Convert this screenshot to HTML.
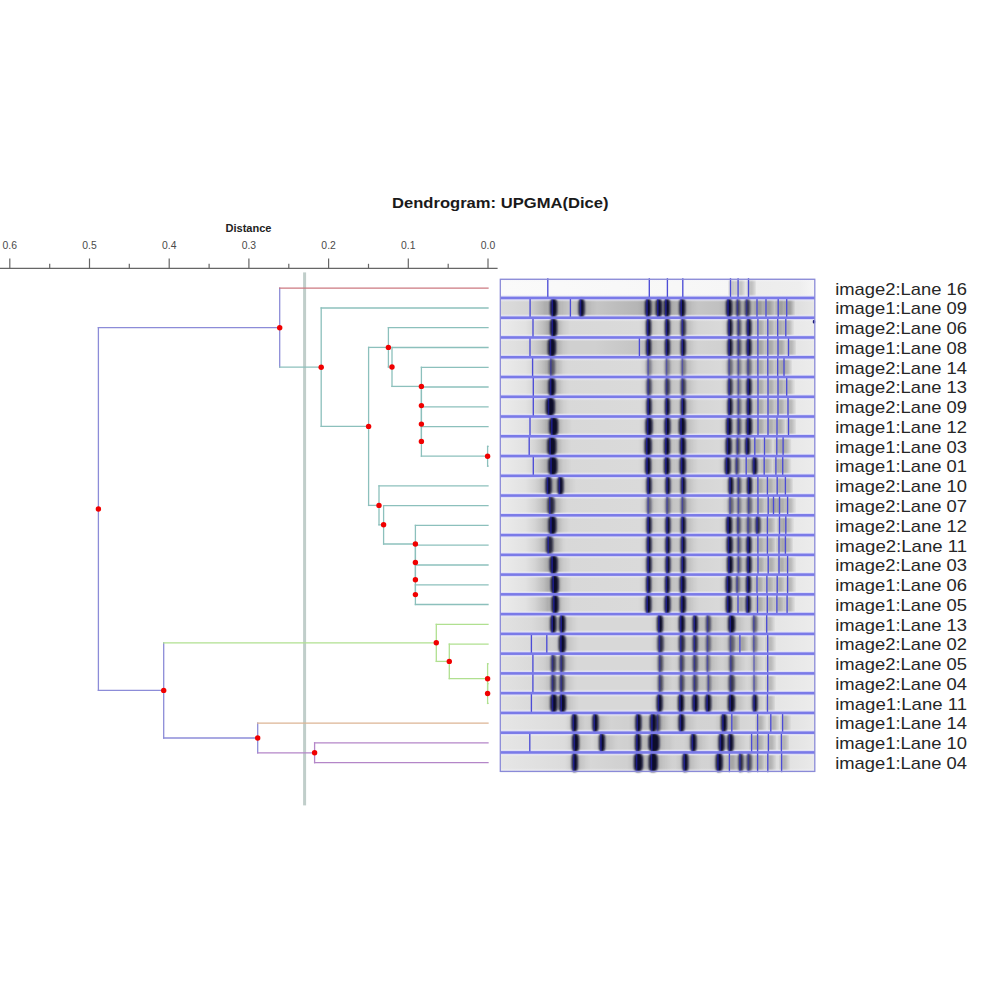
<!DOCTYPE html><html><head><meta charset="utf-8"><style>html,body{margin:0;padding:0;background:#fff;width:1000px;height:1000px;overflow:hidden}svg{position:absolute;left:0;top:0}.t{font-family:"Liberation Sans",sans-serif}</style></head><body>
<svg width="1000" height="1000" viewBox="0 0 1000 1000">
<defs><filter id="bl" x="-50%" y="-20%" width="200%" height="140%"><feGaussianBlur stdDeviation="1.0 1.3"/></filter><filter id="bl2" x="-50%" y="-20%" width="200%" height="140%"><feGaussianBlur stdDeviation="2.5 0.6"/></filter></defs>
<text class="t" x="392" y="207.8" font-size="14.6" font-weight="bold" fill="#1a1a1a" textLength="216.5" lengthAdjust="spacingAndGlyphs">Dendrogram: UPGMA(Dice)</text>
<text class="t" x="225.5" y="231.8" font-size="10" font-weight="bold" fill="#222" textLength="46" lengthAdjust="spacingAndGlyphs">Distance</text>
<g stroke="#666" stroke-width="1.2" fill="none">
<line x1="0" y1="268.3" x2="497.6" y2="268.3"/>
<line x1="9.8" y1="258.5" x2="9.8" y2="268.3"/>
<line x1="89.5" y1="258.5" x2="89.5" y2="268.3"/>
<line x1="169.2" y1="258.5" x2="169.2" y2="268.3"/>
<line x1="248.9" y1="258.5" x2="248.9" y2="268.3"/>
<line x1="328.6" y1="258.5" x2="328.6" y2="268.3"/>
<line x1="408.3" y1="258.5" x2="408.3" y2="268.3"/>
<line x1="488.0" y1="258.5" x2="488.0" y2="268.3"/>
<line x1="49.7" y1="263.8" x2="49.7" y2="268.3"/>
<line x1="129.3" y1="263.8" x2="129.3" y2="268.3"/>
<line x1="209.1" y1="263.8" x2="209.1" y2="268.3"/>
<line x1="288.8" y1="263.8" x2="288.8" y2="268.3"/>
<line x1="368.5" y1="263.8" x2="368.5" y2="268.3"/>
<line x1="448.2" y1="263.8" x2="448.2" y2="268.3"/>
</g>
<text class="t" x="9.8" y="249.2" font-size="10.4" fill="#4a4a4a" text-anchor="middle">0.6</text>
<text class="t" x="89.5" y="249.2" font-size="10.4" fill="#4a4a4a" text-anchor="middle">0.5</text>
<text class="t" x="169.2" y="249.2" font-size="10.4" fill="#4a4a4a" text-anchor="middle">0.4</text>
<text class="t" x="248.9" y="249.2" font-size="10.4" fill="#4a4a4a" text-anchor="middle">0.3</text>
<text class="t" x="328.6" y="249.2" font-size="10.4" fill="#4a4a4a" text-anchor="middle">0.2</text>
<text class="t" x="408.3" y="249.2" font-size="10.4" fill="#4a4a4a" text-anchor="middle">0.1</text>
<text class="t" x="488.0" y="249.2" font-size="10.4" fill="#4a4a4a" text-anchor="middle">0.0</text>
<rect x="303.1" y="272.4" width="3" height="533" fill="#c0ceca"/>
<g stroke-width="1.3" fill="none" stroke-linecap="square">
<line x1="98.4" y1="327.7" x2="98.4" y2="690.4" stroke="#8c8cd8"/>
<line x1="98.4" y1="327.7" x2="279.7" y2="327.7" stroke="#8c8cd8"/>
<line x1="279.7" y1="288.2" x2="279.7" y2="367.2" stroke="#8c8cd8"/>
<line x1="279.7" y1="288.2" x2="488.0" y2="288.2" stroke="#cc7880"/>
<line x1="279.7" y1="367.2" x2="321.2" y2="367.2" stroke="#8cc0bc"/>
<line x1="321.2" y1="308.0" x2="321.2" y2="426.4" stroke="#8cc0bc"/>
<line x1="321.2" y1="308.0" x2="488.0" y2="308.0" stroke="#8cc0bc"/>
<line x1="321.2" y1="426.4" x2="368.6" y2="426.4" stroke="#8cc0bc"/>
<line x1="368.6" y1="347.4" x2="368.6" y2="505.4" stroke="#8cc0bc"/>
<line x1="368.6" y1="347.4" x2="388.4" y2="347.4" stroke="#8cc0bc"/>
<line x1="388.4" y1="327.7" x2="388.4" y2="367.0" stroke="#8cc0bc"/>
<line x1="388.4" y1="327.7" x2="488.0" y2="327.7" stroke="#8cc0bc"/>
<line x1="388.4" y1="367.0" x2="392.0" y2="367.0" stroke="#8cc0bc"/>
<line x1="392.0" y1="347.5" x2="392.0" y2="386.4" stroke="#8cc0bc"/>
<line x1="392.0" y1="347.5" x2="488.0" y2="347.5" stroke="#8cc0bc"/>
<line x1="392.0" y1="386.4" x2="421.4" y2="386.4" stroke="#8cc0bc"/>
<line x1="421.4" y1="367.3" x2="421.4" y2="405.6" stroke="#8cc0bc"/>
<line x1="421.4" y1="367.3" x2="488.0" y2="367.3" stroke="#8cc0bc"/>
<line x1="421.4" y1="405.6" x2="421.4" y2="405.6" stroke="#8cc0bc"/>
<line x1="421.4" y1="387.0" x2="421.4" y2="424.1" stroke="#8cc0bc"/>
<line x1="421.4" y1="387.0" x2="488.0" y2="387.0" stroke="#8cc0bc"/>
<line x1="421.4" y1="424.1" x2="421.4" y2="424.1" stroke="#8cc0bc"/>
<line x1="421.4" y1="406.8" x2="421.4" y2="441.4" stroke="#8cc0bc"/>
<line x1="421.4" y1="406.8" x2="488.0" y2="406.8" stroke="#8cc0bc"/>
<line x1="421.4" y1="441.4" x2="421.4" y2="441.4" stroke="#8cc0bc"/>
<line x1="421.4" y1="426.6" x2="421.4" y2="456.2" stroke="#8cc0bc"/>
<line x1="421.4" y1="426.6" x2="488.0" y2="426.6" stroke="#8cc0bc"/>
<line x1="421.4" y1="456.2" x2="487.6" y2="456.2" stroke="#8cc0bc"/>
<line x1="487.6" y1="446.4" x2="487.6" y2="466.1" stroke="#8cc0bc"/>
<line x1="487.6" y1="446.4" x2="488.0" y2="446.4" stroke="#8cc0bc"/>
<line x1="487.6" y1="466.1" x2="488.0" y2="466.1" stroke="#8cc0bc"/>
<line x1="368.6" y1="505.4" x2="379.0" y2="505.4" stroke="#8cc0bc"/>
<line x1="379.0" y1="485.9" x2="379.0" y2="524.8" stroke="#8cc0bc"/>
<line x1="379.0" y1="485.9" x2="488.0" y2="485.9" stroke="#8cc0bc"/>
<line x1="379.0" y1="524.8" x2="383.6" y2="524.8" stroke="#8cc0bc"/>
<line x1="383.6" y1="505.7" x2="383.6" y2="544.0" stroke="#8cc0bc"/>
<line x1="383.6" y1="505.7" x2="488.0" y2="505.7" stroke="#8cc0bc"/>
<line x1="383.6" y1="544.0" x2="415.4" y2="544.0" stroke="#8cc0bc"/>
<line x1="415.4" y1="525.4" x2="415.4" y2="562.5" stroke="#8cc0bc"/>
<line x1="415.4" y1="525.4" x2="488.0" y2="525.4" stroke="#8cc0bc"/>
<line x1="415.4" y1="562.5" x2="415.4" y2="562.5" stroke="#8cc0bc"/>
<line x1="415.4" y1="545.2" x2="415.4" y2="579.8" stroke="#8cc0bc"/>
<line x1="415.4" y1="545.2" x2="488.0" y2="545.2" stroke="#8cc0bc"/>
<line x1="415.4" y1="579.8" x2="415.4" y2="579.8" stroke="#8cc0bc"/>
<line x1="415.4" y1="565.0" x2="415.4" y2="594.6" stroke="#8cc0bc"/>
<line x1="415.4" y1="565.0" x2="488.0" y2="565.0" stroke="#8cc0bc"/>
<line x1="415.4" y1="594.6" x2="415.4" y2="594.6" stroke="#8cc0bc"/>
<line x1="415.4" y1="584.8" x2="415.4" y2="604.5" stroke="#8cc0bc"/>
<line x1="415.4" y1="584.8" x2="488.0" y2="584.8" stroke="#8cc0bc"/>
<line x1="415.4" y1="604.5" x2="488.0" y2="604.5" stroke="#8cc0bc"/>
<line x1="98.4" y1="690.4" x2="163.7" y2="690.4" stroke="#8c8cd8"/>
<line x1="163.7" y1="642.8" x2="163.7" y2="738.0" stroke="#8c8cd8"/>
<line x1="163.7" y1="642.8" x2="436.3" y2="642.8" stroke="#b0e090"/>
<line x1="436.3" y1="624.3" x2="436.3" y2="661.4" stroke="#b0e090"/>
<line x1="436.3" y1="624.3" x2="488.0" y2="624.3" stroke="#b0e090"/>
<line x1="436.3" y1="661.4" x2="449.3" y2="661.4" stroke="#b0e090"/>
<line x1="449.3" y1="644.1" x2="449.3" y2="678.7" stroke="#b0e090"/>
<line x1="449.3" y1="644.1" x2="488.0" y2="644.1" stroke="#b0e090"/>
<line x1="449.3" y1="678.7" x2="487.6" y2="678.7" stroke="#b0e090"/>
<line x1="487.6" y1="663.8" x2="487.6" y2="693.5" stroke="#b0e090"/>
<line x1="487.6" y1="663.8" x2="488.0" y2="663.8" stroke="#b0e090"/>
<line x1="487.6" y1="693.5" x2="487.6" y2="693.5" stroke="#b0e090"/>
<line x1="487.6" y1="683.6" x2="487.6" y2="703.4" stroke="#b0e090"/>
<line x1="487.6" y1="683.6" x2="488.0" y2="683.6" stroke="#b0e090"/>
<line x1="487.6" y1="703.4" x2="488.0" y2="703.4" stroke="#b0e090"/>
<line x1="163.7" y1="738.0" x2="257.7" y2="738.0" stroke="#8c8cd8"/>
<line x1="257.7" y1="723.1" x2="257.7" y2="752.8" stroke="#8c8cd8"/>
<line x1="257.7" y1="723.1" x2="488.0" y2="723.1" stroke="#dcb494"/>
<line x1="257.7" y1="752.8" x2="314.6" y2="752.8" stroke="#b486c8"/>
<line x1="314.6" y1="742.9" x2="314.6" y2="762.7" stroke="#b486c8"/>
<line x1="314.6" y1="742.9" x2="488.0" y2="742.9" stroke="#b486c8"/>
<line x1="314.6" y1="762.7" x2="488.0" y2="762.7" stroke="#b486c8"/>
</g>
<g fill="#f00000">
<circle cx="487.6" cy="456.2" r="2.7"/>
<circle cx="421.4" cy="441.4" r="2.7"/>
<circle cx="421.4" cy="424.1" r="2.7"/>
<circle cx="421.4" cy="405.6" r="2.7"/>
<circle cx="421.4" cy="386.4" r="2.7"/>
<circle cx="392.0" cy="367.0" r="2.7"/>
<circle cx="388.4" cy="347.4" r="2.7"/>
<circle cx="415.4" cy="594.6" r="2.7"/>
<circle cx="415.4" cy="579.8" r="2.7"/>
<circle cx="415.4" cy="562.5" r="2.7"/>
<circle cx="415.4" cy="544.0" r="2.7"/>
<circle cx="383.6" cy="524.8" r="2.7"/>
<circle cx="379.0" cy="505.4" r="2.7"/>
<circle cx="368.6" cy="426.4" r="2.7"/>
<circle cx="321.2" cy="367.2" r="2.7"/>
<circle cx="279.7" cy="327.7" r="2.7"/>
<circle cx="487.6" cy="693.5" r="2.7"/>
<circle cx="487.6" cy="678.7" r="2.7"/>
<circle cx="449.3" cy="661.4" r="2.7"/>
<circle cx="436.3" cy="642.8" r="2.7"/>
<circle cx="314.6" cy="752.8" r="2.7"/>
<circle cx="257.7" cy="738.0" r="2.7"/>
<circle cx="163.7" cy="690.4" r="2.7"/>
<circle cx="98.4" cy="509.0" r="2.7"/>
</g>
<defs>
<linearGradient id="g_light" x1="0" x2="1" y1="0" y2="0"><stop offset="0" stop-color="#fafafa"/><stop offset="0.75" stop-color="#f6f6f6"/><stop offset="0.8" stop-color="#ececec"/><stop offset="0.95" stop-color="#eeeeee"/><stop offset="1" stop-color="#f6f6f6"/></linearGradient>
<linearGradient id="g_dark" x1="0" x2="1" y1="0" y2="0"><stop offset="0" stop-color="#dcdcdc"/><stop offset="0.089" stop-color="#d4d4d4"/><stop offset="0.142" stop-color="#b0b0b0"/><stop offset="0.19" stop-color="#c8c8c8"/><stop offset="0.285" stop-color="#c8c8c8"/><stop offset="0.445" stop-color="#b4b4b4"/><stop offset="0.604" stop-color="#c8c8c8"/><stop offset="0.7" stop-color="#c0c0c0"/><stop offset="0.922" stop-color="#c4c4c4"/><stop offset="0.938" stop-color="#dedede"/><stop offset="1" stop-color="#e6e6e6"/></linearGradient>
<linearGradient id="g_A" x1="0" x2="1" y1="0" y2="0"><stop offset="0" stop-color="#ececec"/><stop offset="0.08" stop-color="#e2e2e2"/><stop offset="0.11" stop-color="#d4d4d4"/><stop offset="0.15" stop-color="#b4b4b4"/><stop offset="0.2" stop-color="#d8d8d8"/><stop offset="0.45" stop-color="#dadada"/><stop offset="0.6" stop-color="#d4d4d4"/><stop offset="0.72" stop-color="#dadada"/><stop offset="0.9" stop-color="#d6d6d6"/><stop offset="0.93" stop-color="#e8e8e8"/><stop offset="1" stop-color="#ececec"/></linearGradient>
<linearGradient id="g_A3" x1="0" x2="1" y1="0" y2="0"><stop offset="0" stop-color="#e4e4e4"/><stop offset="0.08" stop-color="#dcdcdc"/><stop offset="0.11" stop-color="#cccccc"/><stop offset="0.15" stop-color="#b0b0b0"/><stop offset="0.2" stop-color="#d0d0d0"/><stop offset="0.3" stop-color="#d0d0d0"/><stop offset="0.44" stop-color="#c4c4c4"/><stop offset="0.6" stop-color="#d4d4d4"/><stop offset="0.72" stop-color="#d0d0d0"/><stop offset="0.9" stop-color="#d0d0d0"/><stop offset="0.93" stop-color="#e4e4e4"/><stop offset="1" stop-color="#eaeaea"/></linearGradient>
<linearGradient id="g_B" x1="0" x2="1" y1="0" y2="0"><stop offset="0" stop-color="#e2e2e2"/><stop offset="0.1" stop-color="#dadada"/><stop offset="0.15" stop-color="#cccccc"/><stop offset="0.2" stop-color="#d8d8d8"/><stop offset="0.5" stop-color="#d8d8d8"/><stop offset="0.75" stop-color="#d0d0d0"/><stop offset="0.85" stop-color="#e4e4e4"/><stop offset="1" stop-color="#ececec"/></linearGradient>
<linearGradient id="g_C" x1="0" x2="1" y1="0" y2="0"><stop offset="0" stop-color="#e6e6e6"/><stop offset="0.2" stop-color="#dcdcdc"/><stop offset="0.4" stop-color="#d0d0d0"/><stop offset="0.6" stop-color="#d2d2d2"/><stop offset="0.75" stop-color="#d4d4d4"/><stop offset="0.9" stop-color="#e0e0e0"/><stop offset="1" stop-color="#eaeaea"/></linearGradient>
<linearGradient id="vf" x1="0" x2="0" y1="0" y2="1"><stop offset="0" stop-color="#f4f4fa" stop-opacity="1"/><stop offset="0.2" stop-color="#f4f4fa" stop-opacity="0"/><stop offset="0.8" stop-color="#f4f4fa" stop-opacity="0"/><stop offset="1" stop-color="#f4f4fa" stop-opacity="1"/></linearGradient>
</defs>
<rect x="500.3" y="278.2" width="314.5" height="19.8" fill="url(#g_light)"/>
<rect x="730.5" y="280.2" width="5" height="15.8" fill="#000" opacity="0.28" filter="url(#bl2)"/>
<rect x="738.1" y="280.2" width="5" height="15.8" fill="#000" opacity="0.28" filter="url(#bl2)"/>
<rect x="748.5" y="280.2" width="5" height="15.8" fill="#000" opacity="0.28" filter="url(#bl2)"/>
<rect x="500.3" y="278.2" width="314.5" height="19.8" fill="url(#vf)"/>
<rect x="500.3" y="298.0" width="314.5" height="19.8" fill="url(#g_dark)"/>
<rect x="547.6" y="300.0" width="12.0" height="15.8" fill="#000" opacity="0.09" filter="url(#bl2)"/>
<rect x="553.6" y="300.0" width="13.0" height="15.8" fill="#000" opacity="0.05" filter="url(#bl2)"/>
<rect x="576.1" y="300.0" width="11.0" height="15.8" fill="#000" opacity="0.09" filter="url(#bl2)"/>
<rect x="581.6" y="300.0" width="12.0" height="15.8" fill="#000" opacity="0.05" filter="url(#bl2)"/>
<rect x="642.6" y="300.0" width="11.0" height="15.8" fill="#000" opacity="0.09" filter="url(#bl2)"/>
<rect x="648.1" y="300.0" width="12.0" height="15.8" fill="#000" opacity="0.05" filter="url(#bl2)"/>
<rect x="653.4" y="300.0" width="11.0" height="15.8" fill="#000" opacity="0.09" filter="url(#bl2)"/>
<rect x="658.9" y="300.0" width="12.0" height="15.8" fill="#000" opacity="0.05" filter="url(#bl2)"/>
<rect x="661.5" y="300.0" width="11.0" height="15.8" fill="#000" opacity="0.09" filter="url(#bl2)"/>
<rect x="667.0" y="300.0" width="12.0" height="15.8" fill="#000" opacity="0.05" filter="url(#bl2)"/>
<rect x="676.8" y="300.0" width="11.0" height="15.8" fill="#000" opacity="0.09" filter="url(#bl2)"/>
<rect x="682.3" y="300.0" width="12.0" height="15.8" fill="#000" opacity="0.05" filter="url(#bl2)"/>
<rect x="723.6" y="300.0" width="11.0" height="15.8" fill="#000" opacity="0.09" filter="url(#bl2)"/>
<rect x="729.1" y="300.0" width="12.0" height="15.8" fill="#000" opacity="0.05" filter="url(#bl2)"/>
<rect x="733.6" y="300.0" width="9.0" height="15.8" fill="#000" opacity="0.08" filter="url(#bl2)"/>
<rect x="738.1" y="300.0" width="10.0" height="15.8" fill="#000" opacity="0.05" filter="url(#bl2)"/>
<rect x="742.5" y="300.0" width="10.0" height="15.8" fill="#000" opacity="0.08" filter="url(#bl2)"/>
<rect x="747.5" y="300.0" width="11.0" height="15.8" fill="#000" opacity="0.05" filter="url(#bl2)"/>
<rect x="757.0" y="300.0" width="5" height="15.8" fill="#000" opacity="0.28" filter="url(#bl2)"/>
<rect x="766.0" y="300.0" width="5" height="15.8" fill="#000" opacity="0.28" filter="url(#bl2)"/>
<rect x="778.2" y="300.0" width="5" height="15.8" fill="#000" opacity="0.28" filter="url(#bl2)"/>
<rect x="786.7" y="300.0" width="5" height="15.8" fill="#000" opacity="0.28" filter="url(#bl2)"/>
<rect x="500.3" y="298.0" width="314.5" height="19.8" fill="url(#vf)"/>
<rect x="500.3" y="317.7" width="314.5" height="19.8" fill="url(#g_A)"/>
<rect x="547.6" y="319.7" width="12.0" height="15.8" fill="#000" opacity="0.09" filter="url(#bl2)"/>
<rect x="553.6" y="319.7" width="13.0" height="15.8" fill="#000" opacity="0.05" filter="url(#bl2)"/>
<rect x="643.6" y="319.7" width="10.0" height="15.8" fill="#000" opacity="0.09" filter="url(#bl2)"/>
<rect x="648.6" y="319.7" width="11.0" height="15.8" fill="#000" opacity="0.05" filter="url(#bl2)"/>
<rect x="662.4" y="319.7" width="10.0" height="15.8" fill="#000" opacity="0.09" filter="url(#bl2)"/>
<rect x="667.4" y="319.7" width="11.0" height="15.8" fill="#000" opacity="0.05" filter="url(#bl2)"/>
<rect x="678.2" y="319.7" width="10.0" height="15.8" fill="#000" opacity="0.09" filter="url(#bl2)"/>
<rect x="683.2" y="319.7" width="11.0" height="15.8" fill="#000" opacity="0.05" filter="url(#bl2)"/>
<rect x="725.0" y="319.7" width="10.0" height="15.8" fill="#000" opacity="0.09" filter="url(#bl2)"/>
<rect x="730.0" y="319.7" width="11.0" height="15.8" fill="#000" opacity="0.05" filter="url(#bl2)"/>
<rect x="734.5" y="319.7" width="9.0" height="15.8" fill="#000" opacity="0.08" filter="url(#bl2)"/>
<rect x="739.0" y="319.7" width="10.0" height="15.8" fill="#000" opacity="0.05" filter="url(#bl2)"/>
<rect x="743.9" y="319.7" width="10.0" height="15.8" fill="#000" opacity="0.09" filter="url(#bl2)"/>
<rect x="748.9" y="319.7" width="11.0" height="15.8" fill="#000" opacity="0.05" filter="url(#bl2)"/>
<rect x="757.9" y="319.7" width="5" height="15.8" fill="#000" opacity="0.28" filter="url(#bl2)"/>
<rect x="767.8" y="319.7" width="5" height="15.8" fill="#000" opacity="0.28" filter="url(#bl2)"/>
<rect x="777.7" y="319.7" width="5" height="15.8" fill="#000" opacity="0.28" filter="url(#bl2)"/>
<rect x="785.8" y="319.7" width="5" height="15.8" fill="#000" opacity="0.28" filter="url(#bl2)"/>
<rect x="500.3" y="317.7" width="314.5" height="19.8" fill="url(#vf)"/>
<rect x="500.3" y="337.5" width="314.5" height="19.8" fill="url(#g_A3)"/>
<rect x="545.4" y="339.5" width="13.0" height="15.8" fill="#000" opacity="0.09" filter="url(#bl2)"/>
<rect x="551.9" y="339.5" width="14.0" height="15.8" fill="#000" opacity="0.05" filter="url(#bl2)"/>
<rect x="643.6" y="339.5" width="10.0" height="15.8" fill="#000" opacity="0.09" filter="url(#bl2)"/>
<rect x="648.6" y="339.5" width="11.0" height="15.8" fill="#000" opacity="0.05" filter="url(#bl2)"/>
<rect x="662.4" y="339.5" width="10.0" height="15.8" fill="#000" opacity="0.09" filter="url(#bl2)"/>
<rect x="667.4" y="339.5" width="11.0" height="15.8" fill="#000" opacity="0.05" filter="url(#bl2)"/>
<rect x="678.2" y="339.5" width="10.0" height="15.8" fill="#000" opacity="0.09" filter="url(#bl2)"/>
<rect x="683.2" y="339.5" width="11.0" height="15.8" fill="#000" opacity="0.05" filter="url(#bl2)"/>
<rect x="725.0" y="339.5" width="10.0" height="15.8" fill="#000" opacity="0.09" filter="url(#bl2)"/>
<rect x="730.0" y="339.5" width="11.0" height="15.8" fill="#000" opacity="0.05" filter="url(#bl2)"/>
<rect x="734.5" y="339.5" width="9.0" height="15.8" fill="#000" opacity="0.08" filter="url(#bl2)"/>
<rect x="739.0" y="339.5" width="10.0" height="15.8" fill="#000" opacity="0.05" filter="url(#bl2)"/>
<rect x="743.9" y="339.5" width="10.0" height="15.8" fill="#000" opacity="0.09" filter="url(#bl2)"/>
<rect x="748.9" y="339.5" width="11.0" height="15.8" fill="#000" opacity="0.05" filter="url(#bl2)"/>
<rect x="757.9" y="339.5" width="5" height="15.8" fill="#000" opacity="0.28" filter="url(#bl2)"/>
<rect x="767.8" y="339.5" width="5" height="15.8" fill="#000" opacity="0.28" filter="url(#bl2)"/>
<rect x="778.0" y="339.5" width="5" height="15.8" fill="#000" opacity="0.28" filter="url(#bl2)"/>
<rect x="788.5" y="339.5" width="5" height="15.8" fill="#000" opacity="0.28" filter="url(#bl2)"/>
<rect x="500.3" y="337.5" width="314.5" height="19.8" fill="url(#vf)"/>
<rect x="500.3" y="357.2" width="314.5" height="19.8" fill="url(#g_A)"/>
<rect x="546.4" y="359.2" width="11.0" height="15.8" fill="#000" opacity="0.08" filter="url(#bl2)"/>
<rect x="551.9" y="359.2" width="12.0" height="15.8" fill="#000" opacity="0.05" filter="url(#bl2)"/>
<rect x="644.0" y="359.2" width="10.0" height="15.8" fill="#000" opacity="0.07" filter="url(#bl2)"/>
<rect x="649.0" y="359.2" width="11.0" height="15.8" fill="#000" opacity="0.05" filter="url(#bl2)"/>
<rect x="662.4" y="359.2" width="10.0" height="15.8" fill="#000" opacity="0.07" filter="url(#bl2)"/>
<rect x="667.4" y="359.2" width="11.0" height="15.8" fill="#000" opacity="0.05" filter="url(#bl2)"/>
<rect x="678.2" y="359.2" width="10.0" height="15.8" fill="#000" opacity="0.07" filter="url(#bl2)"/>
<rect x="683.2" y="359.2" width="11.0" height="15.8" fill="#000" opacity="0.05" filter="url(#bl2)"/>
<rect x="725.0" y="359.2" width="10.0" height="15.8" fill="#000" opacity="0.08" filter="url(#bl2)"/>
<rect x="730.0" y="359.2" width="11.0" height="15.8" fill="#000" opacity="0.05" filter="url(#bl2)"/>
<rect x="734.5" y="359.2" width="9.0" height="15.8" fill="#000" opacity="0.07" filter="url(#bl2)"/>
<rect x="739.0" y="359.2" width="10.0" height="15.8" fill="#000" opacity="0.05" filter="url(#bl2)"/>
<rect x="743.9" y="359.2" width="10.0" height="15.8" fill="#000" opacity="0.08" filter="url(#bl2)"/>
<rect x="748.9" y="359.2" width="11.0" height="15.8" fill="#000" opacity="0.05" filter="url(#bl2)"/>
<rect x="757.9" y="359.2" width="5" height="15.8" fill="#000" opacity="0.28" filter="url(#bl2)"/>
<rect x="767.8" y="359.2" width="5" height="15.8" fill="#000" opacity="0.28" filter="url(#bl2)"/>
<rect x="777.7" y="359.2" width="5" height="15.8" fill="#000" opacity="0.28" filter="url(#bl2)"/>
<rect x="784.0" y="359.2" width="5" height="15.8" fill="#000" opacity="0.28" filter="url(#bl2)"/>
<rect x="500.3" y="357.2" width="314.5" height="19.8" fill="url(#vf)"/>
<rect x="500.3" y="377.0" width="314.5" height="19.8" fill="url(#g_A)"/>
<rect x="545.9" y="379.0" width="12.0" height="15.8" fill="#000" opacity="0.09" filter="url(#bl2)"/>
<rect x="551.9" y="379.0" width="13.0" height="15.8" fill="#000" opacity="0.05" filter="url(#bl2)"/>
<rect x="644.0" y="379.0" width="10.0" height="15.8" fill="#000" opacity="0.08" filter="url(#bl2)"/>
<rect x="649.0" y="379.0" width="11.0" height="15.8" fill="#000" opacity="0.05" filter="url(#bl2)"/>
<rect x="662.4" y="379.0" width="10.0" height="15.8" fill="#000" opacity="0.08" filter="url(#bl2)"/>
<rect x="667.4" y="379.0" width="11.0" height="15.8" fill="#000" opacity="0.05" filter="url(#bl2)"/>
<rect x="678.2" y="379.0" width="10.0" height="15.8" fill="#000" opacity="0.08" filter="url(#bl2)"/>
<rect x="683.2" y="379.0" width="11.0" height="15.8" fill="#000" opacity="0.05" filter="url(#bl2)"/>
<rect x="725.0" y="379.0" width="10.0" height="15.8" fill="#000" opacity="0.09" filter="url(#bl2)"/>
<rect x="730.0" y="379.0" width="11.0" height="15.8" fill="#000" opacity="0.05" filter="url(#bl2)"/>
<rect x="734.5" y="379.0" width="9.0" height="15.8" fill="#000" opacity="0.07" filter="url(#bl2)"/>
<rect x="739.0" y="379.0" width="10.0" height="15.8" fill="#000" opacity="0.05" filter="url(#bl2)"/>
<rect x="744.0" y="379.0" width="10.0" height="15.8" fill="#000" opacity="0.09" filter="url(#bl2)"/>
<rect x="749.0" y="379.0" width="11.0" height="15.8" fill="#000" opacity="0.05" filter="url(#bl2)"/>
<rect x="758.0" y="379.0" width="5" height="15.8" fill="#000" opacity="0.28" filter="url(#bl2)"/>
<rect x="768.0" y="379.0" width="5" height="15.8" fill="#000" opacity="0.28" filter="url(#bl2)"/>
<rect x="778.0" y="379.0" width="5" height="15.8" fill="#000" opacity="0.28" filter="url(#bl2)"/>
<rect x="786.7" y="379.0" width="5" height="15.8" fill="#000" opacity="0.28" filter="url(#bl2)"/>
<rect x="500.3" y="377.0" width="314.5" height="19.8" fill="url(#vf)"/>
<rect x="500.3" y="396.8" width="314.5" height="19.8" fill="url(#g_A)"/>
<rect x="543.3" y="398.8" width="14.0" height="15.8" fill="#000" opacity="0.09" filter="url(#bl2)"/>
<rect x="550.3" y="398.8" width="15.0" height="15.8" fill="#000" opacity="0.05" filter="url(#bl2)"/>
<rect x="644.0" y="398.8" width="10.0" height="15.8" fill="#000" opacity="0.09" filter="url(#bl2)"/>
<rect x="649.0" y="398.8" width="11.0" height="15.8" fill="#000" opacity="0.05" filter="url(#bl2)"/>
<rect x="662.4" y="398.8" width="10.0" height="15.8" fill="#000" opacity="0.09" filter="url(#bl2)"/>
<rect x="667.4" y="398.8" width="11.0" height="15.8" fill="#000" opacity="0.05" filter="url(#bl2)"/>
<rect x="678.2" y="398.8" width="10.0" height="15.8" fill="#000" opacity="0.09" filter="url(#bl2)"/>
<rect x="683.2" y="398.8" width="11.0" height="15.8" fill="#000" opacity="0.05" filter="url(#bl2)"/>
<rect x="725.0" y="398.8" width="10.0" height="15.8" fill="#000" opacity="0.09" filter="url(#bl2)"/>
<rect x="730.0" y="398.8" width="11.0" height="15.8" fill="#000" opacity="0.05" filter="url(#bl2)"/>
<rect x="734.5" y="398.8" width="9.0" height="15.8" fill="#000" opacity="0.08" filter="url(#bl2)"/>
<rect x="739.0" y="398.8" width="10.0" height="15.8" fill="#000" opacity="0.05" filter="url(#bl2)"/>
<rect x="744.0" y="398.8" width="10.0" height="15.8" fill="#000" opacity="0.09" filter="url(#bl2)"/>
<rect x="749.0" y="398.8" width="11.0" height="15.8" fill="#000" opacity="0.05" filter="url(#bl2)"/>
<rect x="758.0" y="398.8" width="5" height="15.8" fill="#000" opacity="0.28" filter="url(#bl2)"/>
<rect x="768.0" y="398.8" width="5" height="15.8" fill="#000" opacity="0.28" filter="url(#bl2)"/>
<rect x="778.0" y="398.8" width="5" height="15.8" fill="#000" opacity="0.28" filter="url(#bl2)"/>
<rect x="788.0" y="398.8" width="5" height="15.8" fill="#000" opacity="0.28" filter="url(#bl2)"/>
<rect x="500.3" y="396.8" width="314.5" height="19.8" fill="url(#vf)"/>
<rect x="500.3" y="416.5" width="314.5" height="19.8" fill="url(#g_A)"/>
<rect x="546.6" y="418.5" width="14.0" height="15.8" fill="#000" opacity="0.09" filter="url(#bl2)"/>
<rect x="553.6" y="418.5" width="15.0" height="15.8" fill="#000" opacity="0.05" filter="url(#bl2)"/>
<rect x="643.0" y="418.5" width="12.0" height="15.8" fill="#000" opacity="0.09" filter="url(#bl2)"/>
<rect x="649.0" y="418.5" width="13.0" height="15.8" fill="#000" opacity="0.05" filter="url(#bl2)"/>
<rect x="661.9" y="418.5" width="11.0" height="15.8" fill="#000" opacity="0.09" filter="url(#bl2)"/>
<rect x="667.4" y="418.5" width="12.0" height="15.8" fill="#000" opacity="0.05" filter="url(#bl2)"/>
<rect x="676.3" y="418.5" width="12.0" height="15.8" fill="#000" opacity="0.09" filter="url(#bl2)"/>
<rect x="682.3" y="418.5" width="13.0" height="15.8" fill="#000" opacity="0.05" filter="url(#bl2)"/>
<rect x="723.5" y="418.5" width="11.0" height="15.8" fill="#000" opacity="0.09" filter="url(#bl2)"/>
<rect x="729.0" y="418.5" width="12.0" height="15.8" fill="#000" opacity="0.05" filter="url(#bl2)"/>
<rect x="734.5" y="418.5" width="9.0" height="15.8" fill="#000" opacity="0.08" filter="url(#bl2)"/>
<rect x="739.0" y="418.5" width="10.0" height="15.8" fill="#000" opacity="0.05" filter="url(#bl2)"/>
<rect x="743.5" y="418.5" width="11.0" height="15.8" fill="#000" opacity="0.09" filter="url(#bl2)"/>
<rect x="749.0" y="418.5" width="12.0" height="15.8" fill="#000" opacity="0.05" filter="url(#bl2)"/>
<rect x="758.0" y="418.5" width="5" height="15.8" fill="#000" opacity="0.28" filter="url(#bl2)"/>
<rect x="768.0" y="418.5" width="5" height="15.8" fill="#000" opacity="0.28" filter="url(#bl2)"/>
<rect x="777.0" y="418.5" width="5" height="15.8" fill="#000" opacity="0.28" filter="url(#bl2)"/>
<rect x="788.5" y="418.5" width="5" height="15.8" fill="#000" opacity="0.28" filter="url(#bl2)"/>
<rect x="500.3" y="416.5" width="314.5" height="19.8" fill="url(#vf)"/>
<rect x="500.3" y="436.3" width="314.5" height="19.8" fill="url(#g_A)"/>
<rect x="544.9" y="438.3" width="14.0" height="15.8" fill="#000" opacity="0.09" filter="url(#bl2)"/>
<rect x="551.9" y="438.3" width="15.0" height="15.8" fill="#000" opacity="0.05" filter="url(#bl2)"/>
<rect x="642.1" y="438.3" width="12.0" height="15.8" fill="#000" opacity="0.09" filter="url(#bl2)"/>
<rect x="648.1" y="438.3" width="13.0" height="15.8" fill="#000" opacity="0.05" filter="url(#bl2)"/>
<rect x="661.5" y="438.3" width="11.0" height="15.8" fill="#000" opacity="0.09" filter="url(#bl2)"/>
<rect x="667.0" y="438.3" width="12.0" height="15.8" fill="#000" opacity="0.05" filter="url(#bl2)"/>
<rect x="677.2" y="438.3" width="11.0" height="15.8" fill="#000" opacity="0.09" filter="url(#bl2)"/>
<rect x="682.7" y="438.3" width="12.0" height="15.8" fill="#000" opacity="0.05" filter="url(#bl2)"/>
<rect x="723.1" y="438.3" width="11.0" height="15.8" fill="#000" opacity="0.09" filter="url(#bl2)"/>
<rect x="728.6" y="438.3" width="12.0" height="15.8" fill="#000" opacity="0.05" filter="url(#bl2)"/>
<rect x="733.6" y="438.3" width="9.0" height="15.8" fill="#000" opacity="0.08" filter="url(#bl2)"/>
<rect x="738.1" y="438.3" width="10.0" height="15.8" fill="#000" opacity="0.05" filter="url(#bl2)"/>
<rect x="742.6" y="438.3" width="10.0" height="15.8" fill="#000" opacity="0.09" filter="url(#bl2)"/>
<rect x="747.6" y="438.3" width="11.0" height="15.8" fill="#000" opacity="0.05" filter="url(#bl2)"/>
<rect x="754.8" y="438.3" width="5" height="15.8" fill="#000" opacity="0.28" filter="url(#bl2)"/>
<rect x="764.5" y="438.3" width="5" height="15.8" fill="#000" opacity="0.28" filter="url(#bl2)"/>
<rect x="776.8" y="438.3" width="5" height="15.8" fill="#000" opacity="0.28" filter="url(#bl2)"/>
<rect x="783.1" y="438.3" width="5" height="15.8" fill="#000" opacity="0.28" filter="url(#bl2)"/>
<rect x="500.3" y="436.3" width="314.5" height="19.8" fill="url(#vf)"/>
<rect x="500.3" y="456.0" width="314.5" height="19.8" fill="url(#g_A)"/>
<rect x="545.8" y="458.0" width="14.0" height="15.8" fill="#000" opacity="0.09" filter="url(#bl2)"/>
<rect x="552.8" y="458.0" width="15.0" height="15.8" fill="#000" opacity="0.05" filter="url(#bl2)"/>
<rect x="642.6" y="458.0" width="11.0" height="15.8" fill="#000" opacity="0.09" filter="url(#bl2)"/>
<rect x="648.1" y="458.0" width="12.0" height="15.8" fill="#000" opacity="0.05" filter="url(#bl2)"/>
<rect x="661.5" y="458.0" width="11.0" height="15.8" fill="#000" opacity="0.09" filter="url(#bl2)"/>
<rect x="667.0" y="458.0" width="12.0" height="15.8" fill="#000" opacity="0.05" filter="url(#bl2)"/>
<rect x="677.2" y="458.0" width="11.0" height="15.8" fill="#000" opacity="0.09" filter="url(#bl2)"/>
<rect x="682.7" y="458.0" width="12.0" height="15.8" fill="#000" opacity="0.05" filter="url(#bl2)"/>
<rect x="722.2" y="458.0" width="11.0" height="15.8" fill="#000" opacity="0.09" filter="url(#bl2)"/>
<rect x="727.7" y="458.0" width="12.0" height="15.8" fill="#000" opacity="0.05" filter="url(#bl2)"/>
<rect x="732.7" y="458.0" width="9.0" height="15.8" fill="#000" opacity="0.08" filter="url(#bl2)"/>
<rect x="737.2" y="458.0" width="10.0" height="15.8" fill="#000" opacity="0.05" filter="url(#bl2)"/>
<rect x="749.8" y="458.0" width="10.0" height="15.8" fill="#000" opacity="0.09" filter="url(#bl2)"/>
<rect x="754.8" y="458.0" width="11.0" height="15.8" fill="#000" opacity="0.05" filter="url(#bl2)"/>
<rect x="746.2" y="458.0" width="5" height="15.8" fill="#000" opacity="0.28" filter="url(#bl2)"/>
<rect x="764.2" y="458.0" width="5" height="15.8" fill="#000" opacity="0.28" filter="url(#bl2)"/>
<rect x="775.9" y="458.0" width="5" height="15.8" fill="#000" opacity="0.28" filter="url(#bl2)"/>
<rect x="782.7" y="458.0" width="5" height="15.8" fill="#000" opacity="0.28" filter="url(#bl2)"/>
<rect x="500.3" y="456.0" width="314.5" height="19.8" fill="url(#vf)"/>
<rect x="500.3" y="475.8" width="314.5" height="19.8" fill="url(#g_A)"/>
<rect x="543.1" y="477.8" width="11.0" height="15.8" fill="#000" opacity="0.09" filter="url(#bl2)"/>
<rect x="548.6" y="477.8" width="12.0" height="15.8" fill="#000" opacity="0.05" filter="url(#bl2)"/>
<rect x="555.0" y="477.8" width="11.0" height="15.8" fill="#000" opacity="0.09" filter="url(#bl2)"/>
<rect x="560.5" y="477.8" width="12.0" height="15.8" fill="#000" opacity="0.05" filter="url(#bl2)"/>
<rect x="644.0" y="477.8" width="10.0" height="15.8" fill="#000" opacity="0.09" filter="url(#bl2)"/>
<rect x="649.0" y="477.8" width="11.0" height="15.8" fill="#000" opacity="0.05" filter="url(#bl2)"/>
<rect x="662.9" y="477.8" width="10.0" height="15.8" fill="#000" opacity="0.09" filter="url(#bl2)"/>
<rect x="667.9" y="477.8" width="11.0" height="15.8" fill="#000" opacity="0.05" filter="url(#bl2)"/>
<rect x="678.2" y="477.8" width="10.0" height="15.8" fill="#000" opacity="0.09" filter="url(#bl2)"/>
<rect x="683.2" y="477.8" width="11.0" height="15.8" fill="#000" opacity="0.05" filter="url(#bl2)"/>
<rect x="725.9" y="477.8" width="10.0" height="15.8" fill="#000" opacity="0.09" filter="url(#bl2)"/>
<rect x="730.9" y="477.8" width="11.0" height="15.8" fill="#000" opacity="0.05" filter="url(#bl2)"/>
<rect x="734.5" y="477.8" width="9.0" height="15.8" fill="#000" opacity="0.08" filter="url(#bl2)"/>
<rect x="739.0" y="477.8" width="10.0" height="15.8" fill="#000" opacity="0.05" filter="url(#bl2)"/>
<rect x="744.4" y="477.8" width="10.0" height="15.8" fill="#000" opacity="0.09" filter="url(#bl2)"/>
<rect x="749.4" y="477.8" width="11.0" height="15.8" fill="#000" opacity="0.05" filter="url(#bl2)"/>
<rect x="757.9" y="477.8" width="5" height="15.8" fill="#000" opacity="0.28" filter="url(#bl2)"/>
<rect x="767.4" y="477.8" width="5" height="15.8" fill="#000" opacity="0.28" filter="url(#bl2)"/>
<rect x="777.2" y="477.8" width="5" height="15.8" fill="#000" opacity="0.28" filter="url(#bl2)"/>
<rect x="785.4" y="477.8" width="5" height="15.8" fill="#000" opacity="0.28" filter="url(#bl2)"/>
<rect x="500.3" y="475.8" width="314.5" height="19.8" fill="url(#vf)"/>
<rect x="500.3" y="495.6" width="314.5" height="19.8" fill="url(#g_A)"/>
<rect x="545.1" y="497.6" width="12.0" height="15.8" fill="#000" opacity="0.09" filter="url(#bl2)"/>
<rect x="551.1" y="497.6" width="13.0" height="15.8" fill="#000" opacity="0.05" filter="url(#bl2)"/>
<rect x="644.0" y="497.6" width="10.0" height="15.8" fill="#000" opacity="0.08" filter="url(#bl2)"/>
<rect x="649.0" y="497.6" width="11.0" height="15.8" fill="#000" opacity="0.05" filter="url(#bl2)"/>
<rect x="662.9" y="497.6" width="10.0" height="15.8" fill="#000" opacity="0.08" filter="url(#bl2)"/>
<rect x="667.9" y="497.6" width="11.0" height="15.8" fill="#000" opacity="0.05" filter="url(#bl2)"/>
<rect x="678.2" y="497.6" width="10.0" height="15.8" fill="#000" opacity="0.08" filter="url(#bl2)"/>
<rect x="683.2" y="497.6" width="11.0" height="15.8" fill="#000" opacity="0.05" filter="url(#bl2)"/>
<rect x="725.9" y="497.6" width="10.0" height="15.8" fill="#000" opacity="0.08" filter="url(#bl2)"/>
<rect x="730.9" y="497.6" width="11.0" height="15.8" fill="#000" opacity="0.05" filter="url(#bl2)"/>
<rect x="734.5" y="497.6" width="9.0" height="15.8" fill="#000" opacity="0.07" filter="url(#bl2)"/>
<rect x="739.0" y="497.6" width="10.0" height="15.8" fill="#000" opacity="0.05" filter="url(#bl2)"/>
<rect x="744.4" y="497.6" width="10.0" height="15.8" fill="#000" opacity="0.08" filter="url(#bl2)"/>
<rect x="749.4" y="497.6" width="11.0" height="15.8" fill="#000" opacity="0.05" filter="url(#bl2)"/>
<rect x="758.0" y="497.6" width="5" height="15.8" fill="#000" opacity="0.28" filter="url(#bl2)"/>
<rect x="768.2" y="497.6" width="5" height="15.8" fill="#000" opacity="0.28" filter="url(#bl2)"/>
<rect x="773.5" y="497.6" width="5" height="15.8" fill="#000" opacity="0.28" filter="url(#bl2)"/>
<rect x="779.5" y="497.6" width="5" height="15.8" fill="#000" opacity="0.28" filter="url(#bl2)"/>
<rect x="787.6" y="497.6" width="5" height="15.8" fill="#000" opacity="0.28" filter="url(#bl2)"/>
<rect x="500.3" y="495.6" width="314.5" height="19.8" fill="url(#vf)"/>
<rect x="500.3" y="515.3" width="314.5" height="19.8" fill="url(#g_A)"/>
<rect x="545.9" y="517.3" width="13.0" height="15.8" fill="#000" opacity="0.09" filter="url(#bl2)"/>
<rect x="552.4" y="517.3" width="14.0" height="15.8" fill="#000" opacity="0.05" filter="url(#bl2)"/>
<rect x="644.0" y="517.3" width="10.0" height="15.8" fill="#000" opacity="0.09" filter="url(#bl2)"/>
<rect x="649.0" y="517.3" width="11.0" height="15.8" fill="#000" opacity="0.05" filter="url(#bl2)"/>
<rect x="662.9" y="517.3" width="10.0" height="15.8" fill="#000" opacity="0.09" filter="url(#bl2)"/>
<rect x="667.9" y="517.3" width="11.0" height="15.8" fill="#000" opacity="0.05" filter="url(#bl2)"/>
<rect x="678.2" y="517.3" width="10.0" height="15.8" fill="#000" opacity="0.09" filter="url(#bl2)"/>
<rect x="683.2" y="517.3" width="11.0" height="15.8" fill="#000" opacity="0.05" filter="url(#bl2)"/>
<rect x="723.6" y="517.3" width="11.0" height="15.8" fill="#000" opacity="0.09" filter="url(#bl2)"/>
<rect x="729.1" y="517.3" width="12.0" height="15.8" fill="#000" opacity="0.05" filter="url(#bl2)"/>
<rect x="734.1" y="517.3" width="9.0" height="15.8" fill="#000" opacity="0.08" filter="url(#bl2)"/>
<rect x="738.6" y="517.3" width="10.0" height="15.8" fill="#000" opacity="0.05" filter="url(#bl2)"/>
<rect x="743.9" y="517.3" width="10.0" height="15.8" fill="#000" opacity="0.08" filter="url(#bl2)"/>
<rect x="748.9" y="517.3" width="11.0" height="15.8" fill="#000" opacity="0.05" filter="url(#bl2)"/>
<rect x="752.9" y="517.3" width="10.0" height="15.8" fill="#000" opacity="0.09" filter="url(#bl2)"/>
<rect x="757.9" y="517.3" width="11.0" height="15.8" fill="#000" opacity="0.05" filter="url(#bl2)"/>
<rect x="767.4" y="517.3" width="5" height="15.8" fill="#000" opacity="0.28" filter="url(#bl2)"/>
<rect x="779.5" y="517.3" width="5" height="15.8" fill="#000" opacity="0.28" filter="url(#bl2)"/>
<rect x="785.8" y="517.3" width="5" height="15.8" fill="#000" opacity="0.28" filter="url(#bl2)"/>
<rect x="500.3" y="515.3" width="314.5" height="19.8" fill="url(#vf)"/>
<rect x="500.3" y="535.1" width="314.5" height="19.8" fill="url(#g_A)"/>
<rect x="543.5" y="537.1" width="12.0" height="15.8" fill="#000" opacity="0.09" filter="url(#bl2)"/>
<rect x="549.5" y="537.1" width="13.0" height="15.8" fill="#000" opacity="0.05" filter="url(#bl2)"/>
<rect x="644.0" y="537.1" width="10.0" height="15.8" fill="#000" opacity="0.09" filter="url(#bl2)"/>
<rect x="649.0" y="537.1" width="11.0" height="15.8" fill="#000" opacity="0.05" filter="url(#bl2)"/>
<rect x="662.9" y="537.1" width="10.0" height="15.8" fill="#000" opacity="0.09" filter="url(#bl2)"/>
<rect x="667.9" y="537.1" width="11.0" height="15.8" fill="#000" opacity="0.05" filter="url(#bl2)"/>
<rect x="678.2" y="537.1" width="10.0" height="15.8" fill="#000" opacity="0.09" filter="url(#bl2)"/>
<rect x="683.2" y="537.1" width="11.0" height="15.8" fill="#000" opacity="0.05" filter="url(#bl2)"/>
<rect x="724.1" y="537.1" width="11.0" height="15.8" fill="#000" opacity="0.09" filter="url(#bl2)"/>
<rect x="729.6" y="537.1" width="12.0" height="15.8" fill="#000" opacity="0.05" filter="url(#bl2)"/>
<rect x="734.5" y="537.1" width="9.0" height="15.8" fill="#000" opacity="0.08" filter="url(#bl2)"/>
<rect x="739.0" y="537.1" width="10.0" height="15.8" fill="#000" opacity="0.05" filter="url(#bl2)"/>
<rect x="743.9" y="537.1" width="10.0" height="15.8" fill="#000" opacity="0.09" filter="url(#bl2)"/>
<rect x="748.9" y="537.1" width="11.0" height="15.8" fill="#000" opacity="0.05" filter="url(#bl2)"/>
<rect x="757.9" y="537.1" width="5" height="15.8" fill="#000" opacity="0.28" filter="url(#bl2)"/>
<rect x="767.4" y="537.1" width="5" height="15.8" fill="#000" opacity="0.28" filter="url(#bl2)"/>
<rect x="779.0" y="537.1" width="5" height="15.8" fill="#000" opacity="0.28" filter="url(#bl2)"/>
<rect x="785.4" y="537.1" width="5" height="15.8" fill="#000" opacity="0.28" filter="url(#bl2)"/>
<rect x="500.3" y="535.1" width="314.5" height="19.8" fill="url(#vf)"/>
<rect x="500.3" y="554.8" width="314.5" height="19.8" fill="url(#g_A)"/>
<rect x="547.1" y="556.8" width="13.0" height="15.8" fill="#000" opacity="0.09" filter="url(#bl2)"/>
<rect x="553.6" y="556.8" width="14.0" height="15.8" fill="#000" opacity="0.05" filter="url(#bl2)"/>
<rect x="644.0" y="556.8" width="10.0" height="15.8" fill="#000" opacity="0.09" filter="url(#bl2)"/>
<rect x="649.0" y="556.8" width="11.0" height="15.8" fill="#000" opacity="0.05" filter="url(#bl2)"/>
<rect x="662.9" y="556.8" width="10.0" height="15.8" fill="#000" opacity="0.09" filter="url(#bl2)"/>
<rect x="667.9" y="556.8" width="11.0" height="15.8" fill="#000" opacity="0.05" filter="url(#bl2)"/>
<rect x="678.2" y="556.8" width="10.0" height="15.8" fill="#000" opacity="0.09" filter="url(#bl2)"/>
<rect x="683.2" y="556.8" width="11.0" height="15.8" fill="#000" opacity="0.05" filter="url(#bl2)"/>
<rect x="724.5" y="556.8" width="11.0" height="15.8" fill="#000" opacity="0.09" filter="url(#bl2)"/>
<rect x="730.0" y="556.8" width="12.0" height="15.8" fill="#000" opacity="0.05" filter="url(#bl2)"/>
<rect x="734.5" y="556.8" width="9.0" height="15.8" fill="#000" opacity="0.08" filter="url(#bl2)"/>
<rect x="739.0" y="556.8" width="10.0" height="15.8" fill="#000" opacity="0.05" filter="url(#bl2)"/>
<rect x="744.0" y="556.8" width="10.0" height="15.8" fill="#000" opacity="0.09" filter="url(#bl2)"/>
<rect x="749.0" y="556.8" width="11.0" height="15.8" fill="#000" opacity="0.05" filter="url(#bl2)"/>
<rect x="758.0" y="556.8" width="5" height="15.8" fill="#000" opacity="0.28" filter="url(#bl2)"/>
<rect x="768.2" y="556.8" width="5" height="15.8" fill="#000" opacity="0.28" filter="url(#bl2)"/>
<rect x="779.0" y="556.8" width="5" height="15.8" fill="#000" opacity="0.28" filter="url(#bl2)"/>
<rect x="787.6" y="556.8" width="5" height="15.8" fill="#000" opacity="0.28" filter="url(#bl2)"/>
<rect x="500.3" y="554.8" width="314.5" height="19.8" fill="url(#vf)"/>
<rect x="500.3" y="574.6" width="314.5" height="19.8" fill="url(#g_A)"/>
<rect x="548.2" y="576.6" width="13.0" height="15.8" fill="#000" opacity="0.09" filter="url(#bl2)"/>
<rect x="554.7" y="576.6" width="14.0" height="15.8" fill="#000" opacity="0.05" filter="url(#bl2)"/>
<rect x="643.6" y="576.6" width="10.0" height="15.8" fill="#000" opacity="0.09" filter="url(#bl2)"/>
<rect x="648.6" y="576.6" width="11.0" height="15.8" fill="#000" opacity="0.05" filter="url(#bl2)"/>
<rect x="662.4" y="576.6" width="10.0" height="15.8" fill="#000" opacity="0.09" filter="url(#bl2)"/>
<rect x="667.4" y="576.6" width="11.0" height="15.8" fill="#000" opacity="0.05" filter="url(#bl2)"/>
<rect x="677.2" y="576.6" width="11.0" height="15.8" fill="#000" opacity="0.09" filter="url(#bl2)"/>
<rect x="682.7" y="576.6" width="12.0" height="15.8" fill="#000" opacity="0.05" filter="url(#bl2)"/>
<rect x="723.1" y="576.6" width="11.0" height="15.8" fill="#000" opacity="0.09" filter="url(#bl2)"/>
<rect x="728.6" y="576.6" width="12.0" height="15.8" fill="#000" opacity="0.05" filter="url(#bl2)"/>
<rect x="733.2" y="576.6" width="9.0" height="15.8" fill="#000" opacity="0.08" filter="url(#bl2)"/>
<rect x="737.7" y="576.6" width="10.0" height="15.8" fill="#000" opacity="0.05" filter="url(#bl2)"/>
<rect x="743.5" y="576.6" width="10.0" height="15.8" fill="#000" opacity="0.09" filter="url(#bl2)"/>
<rect x="748.5" y="576.6" width="11.0" height="15.8" fill="#000" opacity="0.05" filter="url(#bl2)"/>
<rect x="757.0" y="576.6" width="5" height="15.8" fill="#000" opacity="0.28" filter="url(#bl2)"/>
<rect x="766.9" y="576.6" width="5" height="15.8" fill="#000" opacity="0.28" filter="url(#bl2)"/>
<rect x="777.2" y="576.6" width="5" height="15.8" fill="#000" opacity="0.28" filter="url(#bl2)"/>
<rect x="787.6" y="576.6" width="5" height="15.8" fill="#000" opacity="0.28" filter="url(#bl2)"/>
<rect x="500.3" y="574.6" width="314.5" height="19.8" fill="url(#vf)"/>
<rect x="500.3" y="594.4" width="314.5" height="19.8" fill="url(#g_A)"/>
<rect x="549.1" y="596.4" width="12.0" height="15.8" fill="#000" opacity="0.09" filter="url(#bl2)"/>
<rect x="555.1" y="596.4" width="13.0" height="15.8" fill="#000" opacity="0.05" filter="url(#bl2)"/>
<rect x="642.8" y="596.4" width="11.0" height="15.8" fill="#000" opacity="0.09" filter="url(#bl2)"/>
<rect x="648.3" y="596.4" width="12.0" height="15.8" fill="#000" opacity="0.05" filter="url(#bl2)"/>
<rect x="661.9" y="596.4" width="11.0" height="15.8" fill="#000" opacity="0.09" filter="url(#bl2)"/>
<rect x="667.4" y="596.4" width="12.0" height="15.8" fill="#000" opacity="0.05" filter="url(#bl2)"/>
<rect x="677.4" y="596.4" width="11.0" height="15.8" fill="#000" opacity="0.09" filter="url(#bl2)"/>
<rect x="682.9" y="596.4" width="12.0" height="15.8" fill="#000" opacity="0.05" filter="url(#bl2)"/>
<rect x="723.3" y="596.4" width="11.0" height="15.8" fill="#000" opacity="0.09" filter="url(#bl2)"/>
<rect x="728.8" y="596.4" width="12.0" height="15.8" fill="#000" opacity="0.05" filter="url(#bl2)"/>
<rect x="743.2" y="596.4" width="10.0" height="15.8" fill="#000" opacity="0.09" filter="url(#bl2)"/>
<rect x="748.2" y="596.4" width="11.0" height="15.8" fill="#000" opacity="0.05" filter="url(#bl2)"/>
<rect x="738.0" y="596.4" width="5" height="15.8" fill="#000" opacity="0.28" filter="url(#bl2)"/>
<rect x="757.5" y="596.4" width="5" height="15.8" fill="#000" opacity="0.28" filter="url(#bl2)"/>
<rect x="767.3" y="596.4" width="5" height="15.8" fill="#000" opacity="0.28" filter="url(#bl2)"/>
<rect x="776.9" y="596.4" width="5" height="15.8" fill="#000" opacity="0.28" filter="url(#bl2)"/>
<rect x="787.1" y="596.4" width="5" height="15.8" fill="#000" opacity="0.28" filter="url(#bl2)"/>
<rect x="500.3" y="594.4" width="314.5" height="19.8" fill="url(#vf)"/>
<rect x="500.3" y="614.1" width="314.5" height="19.8" fill="url(#g_B)"/>
<rect x="547.8" y="616.1" width="11.0" height="15.8" fill="#000" opacity="0.09" filter="url(#bl2)"/>
<rect x="553.3" y="616.1" width="12.0" height="15.8" fill="#000" opacity="0.05" filter="url(#bl2)"/>
<rect x="556.8" y="616.1" width="11.0" height="15.8" fill="#000" opacity="0.09" filter="url(#bl2)"/>
<rect x="562.3" y="616.1" width="12.0" height="15.8" fill="#000" opacity="0.05" filter="url(#bl2)"/>
<rect x="654.5" y="616.1" width="11.0" height="15.8" fill="#000" opacity="0.09" filter="url(#bl2)"/>
<rect x="660.0" y="616.1" width="12.0" height="15.8" fill="#000" opacity="0.05" filter="url(#bl2)"/>
<rect x="676.3" y="616.1" width="11.0" height="15.8" fill="#000" opacity="0.09" filter="url(#bl2)"/>
<rect x="681.8" y="616.1" width="12.0" height="15.8" fill="#000" opacity="0.05" filter="url(#bl2)"/>
<rect x="690.2" y="616.1" width="10.0" height="15.8" fill="#000" opacity="0.09" filter="url(#bl2)"/>
<rect x="695.2" y="616.1" width="11.0" height="15.8" fill="#000" opacity="0.05" filter="url(#bl2)"/>
<rect x="703.3" y="616.1" width="10.0" height="15.8" fill="#000" opacity="0.08" filter="url(#bl2)"/>
<rect x="708.3" y="616.1" width="11.0" height="15.8" fill="#000" opacity="0.05" filter="url(#bl2)"/>
<rect x="725.6" y="616.1" width="12.0" height="15.8" fill="#000" opacity="0.09" filter="url(#bl2)"/>
<rect x="731.6" y="616.1" width="13.0" height="15.8" fill="#000" opacity="0.05" filter="url(#bl2)"/>
<rect x="749.7" y="616.1" width="10.0" height="15.8" fill="#000" opacity="0.08" filter="url(#bl2)"/>
<rect x="754.7" y="616.1" width="11.0" height="15.8" fill="#000" opacity="0.05" filter="url(#bl2)"/>
<rect x="766.7" y="616.1" width="5" height="15.8" fill="#000" opacity="0.28" filter="url(#bl2)"/>
<rect x="500.3" y="614.1" width="314.5" height="19.8" fill="url(#vf)"/>
<rect x="500.3" y="633.9" width="314.5" height="19.8" fill="url(#g_B)"/>
<rect x="556.2" y="635.9" width="12.0" height="15.8" fill="#000" opacity="0.09" filter="url(#bl2)"/>
<rect x="562.2" y="635.9" width="13.0" height="15.8" fill="#000" opacity="0.05" filter="url(#bl2)"/>
<rect x="655.0" y="635.9" width="11.0" height="15.8" fill="#000" opacity="0.09" filter="url(#bl2)"/>
<rect x="660.5" y="635.9" width="12.0" height="15.8" fill="#000" opacity="0.05" filter="url(#bl2)"/>
<rect x="676.3" y="635.9" width="11.0" height="15.8" fill="#000" opacity="0.09" filter="url(#bl2)"/>
<rect x="681.8" y="635.9" width="12.0" height="15.8" fill="#000" opacity="0.05" filter="url(#bl2)"/>
<rect x="690.2" y="635.9" width="10.0" height="15.8" fill="#000" opacity="0.09" filter="url(#bl2)"/>
<rect x="695.2" y="635.9" width="11.0" height="15.8" fill="#000" opacity="0.05" filter="url(#bl2)"/>
<rect x="703.3" y="635.9" width="10.0" height="15.8" fill="#000" opacity="0.08" filter="url(#bl2)"/>
<rect x="708.3" y="635.9" width="11.0" height="15.8" fill="#000" opacity="0.05" filter="url(#bl2)"/>
<rect x="726.1" y="635.9" width="11.0" height="15.8" fill="#000" opacity="0.08" filter="url(#bl2)"/>
<rect x="731.6" y="635.9" width="12.0" height="15.8" fill="#000" opacity="0.05" filter="url(#bl2)"/>
<rect x="749.7" y="635.9" width="10.0" height="15.8" fill="#000" opacity="0.07" filter="url(#bl2)"/>
<rect x="754.7" y="635.9" width="11.0" height="15.8" fill="#000" opacity="0.05" filter="url(#bl2)"/>
<rect x="739.9" y="635.9" width="5" height="15.8" fill="#000" opacity="0.28" filter="url(#bl2)"/>
<rect x="767.7" y="635.9" width="5" height="15.8" fill="#000" opacity="0.28" filter="url(#bl2)"/>
<rect x="500.3" y="633.9" width="314.5" height="19.8" fill="url(#vf)"/>
<rect x="500.3" y="653.6" width="314.5" height="19.8" fill="url(#g_B)"/>
<rect x="548.3" y="655.6" width="10.0" height="15.8" fill="#000" opacity="0.08" filter="url(#bl2)"/>
<rect x="553.3" y="655.6" width="11.0" height="15.8" fill="#000" opacity="0.05" filter="url(#bl2)"/>
<rect x="557.0" y="655.6" width="10.0" height="15.8" fill="#000" opacity="0.08" filter="url(#bl2)"/>
<rect x="562.0" y="655.6" width="11.0" height="15.8" fill="#000" opacity="0.05" filter="url(#bl2)"/>
<rect x="655.5" y="655.6" width="10.0" height="15.8" fill="#000" opacity="0.08" filter="url(#bl2)"/>
<rect x="660.5" y="655.6" width="11.0" height="15.8" fill="#000" opacity="0.05" filter="url(#bl2)"/>
<rect x="676.8" y="655.6" width="10.0" height="15.8" fill="#000" opacity="0.08" filter="url(#bl2)"/>
<rect x="681.8" y="655.6" width="11.0" height="15.8" fill="#000" opacity="0.05" filter="url(#bl2)"/>
<rect x="690.2" y="655.6" width="10.0" height="15.8" fill="#000" opacity="0.08" filter="url(#bl2)"/>
<rect x="695.2" y="655.6" width="11.0" height="15.8" fill="#000" opacity="0.05" filter="url(#bl2)"/>
<rect x="703.6" y="655.6" width="9.0" height="15.8" fill="#000" opacity="0.08" filter="url(#bl2)"/>
<rect x="708.1" y="655.6" width="10.0" height="15.8" fill="#000" opacity="0.05" filter="url(#bl2)"/>
<rect x="726.6" y="655.6" width="10.0" height="15.8" fill="#000" opacity="0.08" filter="url(#bl2)"/>
<rect x="731.6" y="655.6" width="11.0" height="15.8" fill="#000" opacity="0.05" filter="url(#bl2)"/>
<rect x="750.2" y="655.6" width="9.0" height="15.8" fill="#000" opacity="0.07" filter="url(#bl2)"/>
<rect x="754.7" y="655.6" width="10.0" height="15.8" fill="#000" opacity="0.05" filter="url(#bl2)"/>
<rect x="767.7" y="655.6" width="5" height="15.8" fill="#000" opacity="0.28" filter="url(#bl2)"/>
<rect x="500.3" y="653.6" width="314.5" height="19.8" fill="url(#vf)"/>
<rect x="500.3" y="673.4" width="314.5" height="19.8" fill="url(#g_B)"/>
<rect x="548.3" y="675.4" width="10.0" height="15.8" fill="#000" opacity="0.08" filter="url(#bl2)"/>
<rect x="553.3" y="675.4" width="11.0" height="15.8" fill="#000" opacity="0.05" filter="url(#bl2)"/>
<rect x="557.0" y="675.4" width="10.0" height="15.8" fill="#000" opacity="0.08" filter="url(#bl2)"/>
<rect x="562.0" y="675.4" width="11.0" height="15.8" fill="#000" opacity="0.05" filter="url(#bl2)"/>
<rect x="655.5" y="675.4" width="10.0" height="15.8" fill="#000" opacity="0.08" filter="url(#bl2)"/>
<rect x="660.5" y="675.4" width="11.0" height="15.8" fill="#000" opacity="0.05" filter="url(#bl2)"/>
<rect x="676.8" y="675.4" width="10.0" height="15.8" fill="#000" opacity="0.08" filter="url(#bl2)"/>
<rect x="681.8" y="675.4" width="11.0" height="15.8" fill="#000" opacity="0.05" filter="url(#bl2)"/>
<rect x="690.2" y="675.4" width="10.0" height="15.8" fill="#000" opacity="0.08" filter="url(#bl2)"/>
<rect x="695.2" y="675.4" width="11.0" height="15.8" fill="#000" opacity="0.05" filter="url(#bl2)"/>
<rect x="704.5" y="675.4" width="9.0" height="15.8" fill="#000" opacity="0.08" filter="url(#bl2)"/>
<rect x="709.0" y="675.4" width="10.0" height="15.8" fill="#000" opacity="0.05" filter="url(#bl2)"/>
<rect x="726.1" y="675.4" width="11.0" height="15.8" fill="#000" opacity="0.08" filter="url(#bl2)"/>
<rect x="731.6" y="675.4" width="12.0" height="15.8" fill="#000" opacity="0.05" filter="url(#bl2)"/>
<rect x="750.2" y="675.4" width="9.0" height="15.8" fill="#000" opacity="0.07" filter="url(#bl2)"/>
<rect x="754.7" y="675.4" width="10.0" height="15.8" fill="#000" opacity="0.05" filter="url(#bl2)"/>
<rect x="767.7" y="675.4" width="5" height="15.8" fill="#000" opacity="0.28" filter="url(#bl2)"/>
<rect x="500.3" y="673.4" width="314.5" height="19.8" fill="url(#vf)"/>
<rect x="500.3" y="693.2" width="314.5" height="19.8" fill="url(#g_B)"/>
<rect x="547.8" y="695.2" width="12.0" height="15.8" fill="#000" opacity="0.09" filter="url(#bl2)"/>
<rect x="553.8" y="695.2" width="13.0" height="15.8" fill="#000" opacity="0.05" filter="url(#bl2)"/>
<rect x="556.5" y="695.2" width="12.0" height="15.8" fill="#000" opacity="0.09" filter="url(#bl2)"/>
<rect x="562.5" y="695.2" width="13.0" height="15.8" fill="#000" opacity="0.05" filter="url(#bl2)"/>
<rect x="654.1" y="695.2" width="11.0" height="15.8" fill="#000" opacity="0.09" filter="url(#bl2)"/>
<rect x="659.6" y="695.2" width="12.0" height="15.8" fill="#000" opacity="0.05" filter="url(#bl2)"/>
<rect x="675.5" y="695.2" width="11.0" height="15.8" fill="#000" opacity="0.09" filter="url(#bl2)"/>
<rect x="681.0" y="695.2" width="12.0" height="15.8" fill="#000" opacity="0.05" filter="url(#bl2)"/>
<rect x="689.7" y="695.2" width="11.0" height="15.8" fill="#000" opacity="0.09" filter="url(#bl2)"/>
<rect x="695.2" y="695.2" width="12.0" height="15.8" fill="#000" opacity="0.05" filter="url(#bl2)"/>
<rect x="702.7" y="695.2" width="11.0" height="15.8" fill="#000" opacity="0.09" filter="url(#bl2)"/>
<rect x="708.2" y="695.2" width="12.0" height="15.8" fill="#000" opacity="0.05" filter="url(#bl2)"/>
<rect x="725.4" y="695.2" width="12.0" height="15.8" fill="#000" opacity="0.09" filter="url(#bl2)"/>
<rect x="731.4" y="695.2" width="13.0" height="15.8" fill="#000" opacity="0.05" filter="url(#bl2)"/>
<rect x="750.0" y="695.2" width="10.0" height="15.8" fill="#000" opacity="0.09" filter="url(#bl2)"/>
<rect x="755.0" y="695.2" width="11.0" height="15.8" fill="#000" opacity="0.05" filter="url(#bl2)"/>
<rect x="767.5" y="695.2" width="5" height="15.8" fill="#000" opacity="0.28" filter="url(#bl2)"/>
<rect x="500.3" y="693.2" width="314.5" height="19.8" fill="url(#vf)"/>
<rect x="500.3" y="712.9" width="314.5" height="19.8" fill="url(#g_C)"/>
<rect x="569.0" y="714.9" width="11.0" height="15.8" fill="#000" opacity="0.09" filter="url(#bl2)"/>
<rect x="574.5" y="714.9" width="12.0" height="15.8" fill="#000" opacity="0.05" filter="url(#bl2)"/>
<rect x="589.9" y="714.9" width="11.0" height="15.8" fill="#000" opacity="0.09" filter="url(#bl2)"/>
<rect x="595.4" y="714.9" width="12.0" height="15.8" fill="#000" opacity="0.05" filter="url(#bl2)"/>
<rect x="632.9" y="714.9" width="11.0" height="15.8" fill="#000" opacity="0.09" filter="url(#bl2)"/>
<rect x="638.4" y="714.9" width="12.0" height="15.8" fill="#000" opacity="0.05" filter="url(#bl2)"/>
<rect x="647.2" y="714.9" width="12.0" height="15.8" fill="#000" opacity="0.09" filter="url(#bl2)"/>
<rect x="653.2" y="714.9" width="13.0" height="15.8" fill="#000" opacity="0.05" filter="url(#bl2)"/>
<rect x="653.7" y="714.9" width="9.0" height="15.8" fill="#000" opacity="0.08" filter="url(#bl2)"/>
<rect x="658.2" y="714.9" width="10.0" height="15.8" fill="#000" opacity="0.05" filter="url(#bl2)"/>
<rect x="676.0" y="714.9" width="11.0" height="15.8" fill="#000" opacity="0.09" filter="url(#bl2)"/>
<rect x="681.5" y="714.9" width="12.0" height="15.8" fill="#000" opacity="0.05" filter="url(#bl2)"/>
<rect x="718.5" y="714.9" width="11.0" height="15.8" fill="#000" opacity="0.09" filter="url(#bl2)"/>
<rect x="724.0" y="714.9" width="12.0" height="15.8" fill="#000" opacity="0.05" filter="url(#bl2)"/>
<rect x="731.8" y="714.9" width="5" height="15.8" fill="#000" opacity="0.28" filter="url(#bl2)"/>
<rect x="757.6" y="714.9" width="5" height="15.8" fill="#000" opacity="0.28" filter="url(#bl2)"/>
<rect x="770.8" y="714.9" width="5" height="15.8" fill="#000" opacity="0.28" filter="url(#bl2)"/>
<rect x="782.6" y="714.9" width="5" height="15.8" fill="#000" opacity="0.28" filter="url(#bl2)"/>
<rect x="500.3" y="712.9" width="314.5" height="19.8" fill="url(#vf)"/>
<rect x="500.3" y="732.7" width="314.5" height="19.8" fill="url(#g_C)"/>
<rect x="569.6" y="734.7" width="12.0" height="15.8" fill="#000" opacity="0.09" filter="url(#bl2)"/>
<rect x="575.6" y="734.7" width="13.0" height="15.8" fill="#000" opacity="0.05" filter="url(#bl2)"/>
<rect x="596.5" y="734.7" width="11.0" height="15.8" fill="#000" opacity="0.09" filter="url(#bl2)"/>
<rect x="602.0" y="734.7" width="12.0" height="15.8" fill="#000" opacity="0.05" filter="url(#bl2)"/>
<rect x="632.5" y="734.7" width="11.0" height="15.8" fill="#000" opacity="0.09" filter="url(#bl2)"/>
<rect x="638.0" y="734.7" width="12.0" height="15.8" fill="#000" opacity="0.05" filter="url(#bl2)"/>
<rect x="646.0" y="734.7" width="16.0" height="15.8" fill="#000" opacity="0.09" filter="url(#bl2)"/>
<rect x="654.0" y="734.7" width="17.0" height="15.8" fill="#000" opacity="0.05" filter="url(#bl2)"/>
<rect x="688.0" y="734.7" width="11.0" height="15.8" fill="#000" opacity="0.09" filter="url(#bl2)"/>
<rect x="693.5" y="734.7" width="12.0" height="15.8" fill="#000" opacity="0.05" filter="url(#bl2)"/>
<rect x="716.0" y="734.7" width="11.0" height="15.8" fill="#000" opacity="0.09" filter="url(#bl2)"/>
<rect x="721.5" y="734.7" width="12.0" height="15.8" fill="#000" opacity="0.05" filter="url(#bl2)"/>
<rect x="725.1" y="734.7" width="11.0" height="15.8" fill="#000" opacity="0.09" filter="url(#bl2)"/>
<rect x="730.6" y="734.7" width="12.0" height="15.8" fill="#000" opacity="0.05" filter="url(#bl2)"/>
<rect x="751.6" y="734.7" width="5" height="15.8" fill="#000" opacity="0.28" filter="url(#bl2)"/>
<rect x="757.6" y="734.7" width="5" height="15.8" fill="#000" opacity="0.28" filter="url(#bl2)"/>
<rect x="768.4" y="734.7" width="5" height="15.8" fill="#000" opacity="0.28" filter="url(#bl2)"/>
<rect x="781.4" y="734.7" width="5" height="15.8" fill="#000" opacity="0.28" filter="url(#bl2)"/>
<rect x="500.3" y="732.7" width="314.5" height="19.8" fill="url(#vf)"/>
<rect x="500.3" y="752.4" width="314.5" height="19.8" fill="url(#g_C)"/>
<rect x="569.3" y="754.4" width="11.0" height="15.8" fill="#000" opacity="0.09" filter="url(#bl2)"/>
<rect x="574.8" y="754.4" width="12.0" height="15.8" fill="#000" opacity="0.05" filter="url(#bl2)"/>
<rect x="631.4" y="754.4" width="14.0" height="15.8" fill="#000" opacity="0.09" filter="url(#bl2)"/>
<rect x="638.4" y="754.4" width="15.0" height="15.8" fill="#000" opacity="0.05" filter="url(#bl2)"/>
<rect x="646.2" y="754.4" width="14.0" height="15.8" fill="#000" opacity="0.09" filter="url(#bl2)"/>
<rect x="653.2" y="754.4" width="15.0" height="15.8" fill="#000" opacity="0.05" filter="url(#bl2)"/>
<rect x="679.9" y="754.4" width="11.0" height="15.8" fill="#000" opacity="0.09" filter="url(#bl2)"/>
<rect x="685.4" y="754.4" width="12.0" height="15.8" fill="#000" opacity="0.05" filter="url(#bl2)"/>
<rect x="713.2" y="754.4" width="12.0" height="15.8" fill="#000" opacity="0.09" filter="url(#bl2)"/>
<rect x="719.2" y="754.4" width="13.0" height="15.8" fill="#000" opacity="0.05" filter="url(#bl2)"/>
<rect x="735.8" y="754.4" width="10.0" height="15.8" fill="#000" opacity="0.09" filter="url(#bl2)"/>
<rect x="740.8" y="754.4" width="11.0" height="15.8" fill="#000" opacity="0.05" filter="url(#bl2)"/>
<rect x="744.2" y="754.4" width="10.0" height="15.8" fill="#000" opacity="0.08" filter="url(#bl2)"/>
<rect x="749.2" y="754.4" width="11.0" height="15.8" fill="#000" opacity="0.05" filter="url(#bl2)"/>
<rect x="729.4" y="754.4" width="5" height="15.8" fill="#000" opacity="0.28" filter="url(#bl2)"/>
<rect x="757.6" y="754.4" width="5" height="15.8" fill="#000" opacity="0.28" filter="url(#bl2)"/>
<rect x="767.8" y="754.4" width="5" height="15.8" fill="#000" opacity="0.28" filter="url(#bl2)"/>
<rect x="781.6" y="754.4" width="5" height="15.8" fill="#000" opacity="0.28" filter="url(#bl2)"/>
<rect x="500.3" y="752.4" width="314.5" height="19.8" fill="url(#vf)"/>
<g fill="#dedef6">
<rect x="500.3" y="295.66" width="314.5" height="4.6"/>
<rect x="500.3" y="315.42" width="314.5" height="4.6"/>
<rect x="500.3" y="335.18" width="314.5" height="4.6"/>
<rect x="500.3" y="354.94" width="314.5" height="4.6"/>
<rect x="500.3" y="374.70" width="314.5" height="4.6"/>
<rect x="500.3" y="394.46" width="314.5" height="4.6"/>
<rect x="500.3" y="414.22" width="314.5" height="4.6"/>
<rect x="500.3" y="433.98" width="314.5" height="4.6"/>
<rect x="500.3" y="453.74" width="314.5" height="4.6"/>
<rect x="500.3" y="473.50" width="314.5" height="4.6"/>
<rect x="500.3" y="493.26" width="314.5" height="4.6"/>
<rect x="500.3" y="513.02" width="314.5" height="4.6"/>
<rect x="500.3" y="532.78" width="314.5" height="4.6"/>
<rect x="500.3" y="552.54" width="314.5" height="4.6"/>
<rect x="500.3" y="572.30" width="314.5" height="4.6"/>
<rect x="500.3" y="592.06" width="314.5" height="4.6"/>
<rect x="500.3" y="611.82" width="314.5" height="4.6"/>
<rect x="500.3" y="631.58" width="314.5" height="4.6"/>
<rect x="500.3" y="651.34" width="314.5" height="4.6"/>
<rect x="500.3" y="671.10" width="314.5" height="4.6"/>
<rect x="500.3" y="690.86" width="314.5" height="4.6"/>
<rect x="500.3" y="710.62" width="314.5" height="4.6"/>
<rect x="500.3" y="730.38" width="314.5" height="4.6"/>
<rect x="500.3" y="750.14" width="314.5" height="4.6"/>
</g>
<rect x="550.15" y="298.2" width="6.90" height="19.4" rx="3.45" ry="5.5" fill="#08082a" opacity="1.00" filter="url(#bl)"/>
<rect x="578.65" y="298.2" width="5.90" height="19.4" rx="2.95" ry="5.5" fill="#08082a" opacity="1.00" filter="url(#bl)"/>
<rect x="645.15" y="298.2" width="5.90" height="19.4" rx="2.95" ry="5.5" fill="#08082a" opacity="1.00" filter="url(#bl)"/>
<rect x="655.95" y="298.2" width="5.90" height="19.4" rx="2.95" ry="5.5" fill="#08082a" opacity="1.00" filter="url(#bl)"/>
<rect x="664.05" y="298.2" width="5.90" height="19.4" rx="2.95" ry="5.5" fill="#08082a" opacity="1.00" filter="url(#bl)"/>
<rect x="679.35" y="298.2" width="5.90" height="19.4" rx="2.95" ry="5.5" fill="#08082a" opacity="1.00" filter="url(#bl)"/>
<rect x="726.15" y="298.2" width="5.90" height="19.4" rx="2.95" ry="5.5" fill="#08082a" opacity="1.00" filter="url(#bl)"/>
<rect x="736.15" y="298.2" width="3.90" height="19.4" rx="1.95" ry="5.5" fill="#08082a" opacity="0.67" filter="url(#bl)"/>
<rect x="745.05" y="298.2" width="4.90" height="19.4" rx="2.45" ry="5.5" fill="#08082a" opacity="0.75" filter="url(#bl)"/>
<rect x="550.15" y="317.9" width="6.90" height="19.4" rx="3.45" ry="5.5" fill="#08082a" opacity="1.00" filter="url(#bl)"/>
<rect x="646.15" y="317.9" width="4.90" height="19.4" rx="2.45" ry="5.5" fill="#08082a" opacity="1.00" filter="url(#bl)"/>
<rect x="664.95" y="317.9" width="4.90" height="19.4" rx="2.45" ry="5.5" fill="#08082a" opacity="1.00" filter="url(#bl)"/>
<rect x="680.75" y="317.9" width="4.90" height="19.4" rx="2.45" ry="5.5" fill="#08082a" opacity="0.83" filter="url(#bl)"/>
<rect x="727.55" y="317.9" width="4.90" height="19.4" rx="2.45" ry="5.5" fill="#08082a" opacity="1.00" filter="url(#bl)"/>
<rect x="737.05" y="317.9" width="3.90" height="19.4" rx="1.95" ry="5.5" fill="#08082a" opacity="0.67" filter="url(#bl)"/>
<rect x="746.45" y="317.9" width="4.90" height="19.4" rx="2.45" ry="5.5" fill="#08082a" opacity="1.00" filter="url(#bl)"/>
<rect x="547.95" y="337.7" width="7.90" height="19.4" rx="3.95" ry="5.5" fill="#08082a" opacity="1.00" filter="url(#bl)"/>
<rect x="646.15" y="337.7" width="4.90" height="19.4" rx="2.45" ry="5.5" fill="#08082a" opacity="1.00" filter="url(#bl)"/>
<rect x="664.95" y="337.7" width="4.90" height="19.4" rx="2.45" ry="5.5" fill="#08082a" opacity="1.00" filter="url(#bl)"/>
<rect x="680.75" y="337.7" width="4.90" height="19.4" rx="2.45" ry="5.5" fill="#08082a" opacity="1.00" filter="url(#bl)"/>
<rect x="727.55" y="337.7" width="4.90" height="19.4" rx="2.45" ry="5.5" fill="#08082a" opacity="1.00" filter="url(#bl)"/>
<rect x="737.05" y="337.7" width="3.90" height="19.4" rx="1.95" ry="5.5" fill="#08082a" opacity="0.67" filter="url(#bl)"/>
<rect x="746.45" y="337.7" width="4.90" height="19.4" rx="2.45" ry="5.5" fill="#08082a" opacity="1.00" filter="url(#bl)"/>
<rect x="548.95" y="357.4" width="5.90" height="19.4" rx="2.95" ry="5.5" fill="#08082a" opacity="0.53" filter="url(#bl)"/>
<rect x="646.55" y="357.4" width="4.90" height="19.4" rx="2.45" ry="5.5" fill="#08082a" opacity="0.40" filter="url(#bl)"/>
<rect x="664.95" y="357.4" width="4.90" height="19.4" rx="2.45" ry="5.5" fill="#08082a" opacity="0.40" filter="url(#bl)"/>
<rect x="680.75" y="357.4" width="4.90" height="19.4" rx="2.45" ry="5.5" fill="#08082a" opacity="0.40" filter="url(#bl)"/>
<rect x="727.55" y="357.4" width="4.90" height="19.4" rx="2.45" ry="5.5" fill="#08082a" opacity="0.53" filter="url(#bl)"/>
<rect x="737.05" y="357.4" width="3.90" height="19.4" rx="1.95" ry="5.5" fill="#08082a" opacity="0.40" filter="url(#bl)"/>
<rect x="746.45" y="357.4" width="4.90" height="19.4" rx="2.45" ry="5.5" fill="#08082a" opacity="0.53" filter="url(#bl)"/>
<rect x="548.45" y="377.2" width="6.90" height="19.4" rx="3.45" ry="5.5" fill="#08082a" opacity="1.00" filter="url(#bl)"/>
<rect x="646.55" y="377.2" width="4.90" height="19.4" rx="2.45" ry="5.5" fill="#08082a" opacity="0.75" filter="url(#bl)"/>
<rect x="664.95" y="377.2" width="4.90" height="19.4" rx="2.45" ry="5.5" fill="#08082a" opacity="0.75" filter="url(#bl)"/>
<rect x="680.75" y="377.2" width="4.90" height="19.4" rx="2.45" ry="5.5" fill="#08082a" opacity="0.75" filter="url(#bl)"/>
<rect x="727.55" y="377.2" width="4.90" height="19.4" rx="2.45" ry="5.5" fill="#08082a" opacity="0.83" filter="url(#bl)"/>
<rect x="737.05" y="377.2" width="3.90" height="19.4" rx="1.95" ry="5.5" fill="#08082a" opacity="0.40" filter="url(#bl)"/>
<rect x="746.55" y="377.2" width="4.90" height="19.4" rx="2.45" ry="5.5" fill="#08082a" opacity="1.00" filter="url(#bl)"/>
<rect x="545.85" y="397.0" width="8.90" height="19.4" rx="4.45" ry="5.5" fill="#08082a" opacity="1.00" filter="url(#bl)"/>
<rect x="646.55" y="397.0" width="4.90" height="19.4" rx="2.45" ry="5.5" fill="#08082a" opacity="1.00" filter="url(#bl)"/>
<rect x="664.95" y="397.0" width="4.90" height="19.4" rx="2.45" ry="5.5" fill="#08082a" opacity="1.00" filter="url(#bl)"/>
<rect x="680.75" y="397.0" width="4.90" height="19.4" rx="2.45" ry="5.5" fill="#08082a" opacity="1.00" filter="url(#bl)"/>
<rect x="727.55" y="397.0" width="4.90" height="19.4" rx="2.45" ry="5.5" fill="#08082a" opacity="1.00" filter="url(#bl)"/>
<rect x="737.05" y="397.0" width="3.90" height="19.4" rx="1.95" ry="5.5" fill="#08082a" opacity="0.53" filter="url(#bl)"/>
<rect x="746.55" y="397.0" width="4.90" height="19.4" rx="2.45" ry="5.5" fill="#08082a" opacity="1.00" filter="url(#bl)"/>
<rect x="549.15" y="416.7" width="8.90" height="19.4" rx="4.45" ry="5.5" fill="#08082a" opacity="1.00" filter="url(#bl)"/>
<rect x="645.55" y="416.7" width="6.90" height="19.4" rx="3.45" ry="5.5" fill="#08082a" opacity="1.00" filter="url(#bl)"/>
<rect x="664.45" y="416.7" width="5.90" height="19.4" rx="2.95" ry="5.5" fill="#08082a" opacity="1.00" filter="url(#bl)"/>
<rect x="678.85" y="416.7" width="6.90" height="19.4" rx="3.45" ry="5.5" fill="#08082a" opacity="1.00" filter="url(#bl)"/>
<rect x="726.05" y="416.7" width="5.90" height="19.4" rx="2.95" ry="5.5" fill="#08082a" opacity="1.00" filter="url(#bl)"/>
<rect x="737.05" y="416.7" width="3.90" height="19.4" rx="1.95" ry="5.5" fill="#08082a" opacity="0.67" filter="url(#bl)"/>
<rect x="746.05" y="416.7" width="5.90" height="19.4" rx="2.95" ry="5.5" fill="#08082a" opacity="1.00" filter="url(#bl)"/>
<rect x="547.45" y="436.5" width="8.90" height="19.4" rx="4.45" ry="5.5" fill="#08082a" opacity="1.00" filter="url(#bl)"/>
<rect x="644.65" y="436.5" width="6.90" height="19.4" rx="3.45" ry="5.5" fill="#08082a" opacity="1.00" filter="url(#bl)"/>
<rect x="664.05" y="436.5" width="5.90" height="19.4" rx="2.95" ry="5.5" fill="#08082a" opacity="1.00" filter="url(#bl)"/>
<rect x="679.75" y="436.5" width="5.90" height="19.4" rx="2.95" ry="5.5" fill="#08082a" opacity="1.00" filter="url(#bl)"/>
<rect x="725.65" y="436.5" width="5.90" height="19.4" rx="2.95" ry="5.5" fill="#08082a" opacity="1.00" filter="url(#bl)"/>
<rect x="736.15" y="436.5" width="3.90" height="19.4" rx="1.95" ry="5.5" fill="#08082a" opacity="0.67" filter="url(#bl)"/>
<rect x="745.15" y="436.5" width="4.90" height="19.4" rx="2.45" ry="5.5" fill="#08082a" opacity="1.00" filter="url(#bl)"/>
<rect x="548.35" y="456.2" width="8.90" height="19.4" rx="4.45" ry="5.5" fill="#08082a" opacity="1.00" filter="url(#bl)"/>
<rect x="645.15" y="456.2" width="5.90" height="19.4" rx="2.95" ry="5.5" fill="#08082a" opacity="1.00" filter="url(#bl)"/>
<rect x="664.05" y="456.2" width="5.90" height="19.4" rx="2.95" ry="5.5" fill="#08082a" opacity="1.00" filter="url(#bl)"/>
<rect x="679.75" y="456.2" width="5.90" height="19.4" rx="2.95" ry="5.5" fill="#08082a" opacity="1.00" filter="url(#bl)"/>
<rect x="724.75" y="456.2" width="5.90" height="19.4" rx="2.95" ry="5.5" fill="#08082a" opacity="1.00" filter="url(#bl)"/>
<rect x="735.25" y="456.2" width="3.90" height="19.4" rx="1.95" ry="5.5" fill="#08082a" opacity="0.67" filter="url(#bl)"/>
<rect x="752.35" y="456.2" width="4.90" height="19.4" rx="2.45" ry="5.5" fill="#08082a" opacity="1.00" filter="url(#bl)"/>
<rect x="545.65" y="476.0" width="5.90" height="19.4" rx="2.95" ry="5.5" fill="#08082a" opacity="1.00" filter="url(#bl)"/>
<rect x="557.55" y="476.0" width="5.90" height="19.4" rx="2.95" ry="5.5" fill="#08082a" opacity="1.00" filter="url(#bl)"/>
<rect x="646.55" y="476.0" width="4.90" height="19.4" rx="2.45" ry="5.5" fill="#08082a" opacity="1.00" filter="url(#bl)"/>
<rect x="665.45" y="476.0" width="4.90" height="19.4" rx="2.45" ry="5.5" fill="#08082a" opacity="1.00" filter="url(#bl)"/>
<rect x="680.75" y="476.0" width="4.90" height="19.4" rx="2.45" ry="5.5" fill="#08082a" opacity="1.00" filter="url(#bl)"/>
<rect x="728.45" y="476.0" width="4.90" height="19.4" rx="2.45" ry="5.5" fill="#08082a" opacity="1.00" filter="url(#bl)"/>
<rect x="737.05" y="476.0" width="3.90" height="19.4" rx="1.95" ry="5.5" fill="#08082a" opacity="0.67" filter="url(#bl)"/>
<rect x="746.95" y="476.0" width="4.90" height="19.4" rx="2.45" ry="5.5" fill="#08082a" opacity="1.00" filter="url(#bl)"/>
<rect x="547.65" y="495.8" width="6.90" height="19.4" rx="3.45" ry="5.5" fill="#08082a" opacity="0.83" filter="url(#bl)"/>
<rect x="646.55" y="495.8" width="4.90" height="19.4" rx="2.45" ry="5.5" fill="#08082a" opacity="0.53" filter="url(#bl)"/>
<rect x="665.45" y="495.8" width="4.90" height="19.4" rx="2.45" ry="5.5" fill="#08082a" opacity="0.53" filter="url(#bl)"/>
<rect x="680.75" y="495.8" width="4.90" height="19.4" rx="2.45" ry="5.5" fill="#08082a" opacity="0.53" filter="url(#bl)"/>
<rect x="728.45" y="495.8" width="4.90" height="19.4" rx="2.45" ry="5.5" fill="#08082a" opacity="0.53" filter="url(#bl)"/>
<rect x="737.05" y="495.8" width="3.90" height="19.4" rx="1.95" ry="5.5" fill="#08082a" opacity="0.40" filter="url(#bl)"/>
<rect x="746.95" y="495.8" width="4.90" height="19.4" rx="2.45" ry="5.5" fill="#08082a" opacity="0.53" filter="url(#bl)"/>
<rect x="548.45" y="515.5" width="7.90" height="19.4" rx="3.95" ry="5.5" fill="#08082a" opacity="1.00" filter="url(#bl)"/>
<rect x="646.55" y="515.5" width="4.90" height="19.4" rx="2.45" ry="5.5" fill="#08082a" opacity="1.00" filter="url(#bl)"/>
<rect x="665.45" y="515.5" width="4.90" height="19.4" rx="2.45" ry="5.5" fill="#08082a" opacity="1.00" filter="url(#bl)"/>
<rect x="680.75" y="515.5" width="4.90" height="19.4" rx="2.45" ry="5.5" fill="#08082a" opacity="1.00" filter="url(#bl)"/>
<rect x="726.15" y="515.5" width="5.90" height="19.4" rx="2.95" ry="5.5" fill="#08082a" opacity="1.00" filter="url(#bl)"/>
<rect x="736.65" y="515.5" width="3.90" height="19.4" rx="1.95" ry="5.5" fill="#08082a" opacity="0.67" filter="url(#bl)"/>
<rect x="746.45" y="515.5" width="4.90" height="19.4" rx="2.45" ry="5.5" fill="#08082a" opacity="0.53" filter="url(#bl)"/>
<rect x="755.45" y="515.5" width="4.90" height="19.4" rx="2.45" ry="5.5" fill="#08082a" opacity="0.83" filter="url(#bl)"/>
<rect x="546.05" y="535.3" width="6.90" height="19.4" rx="3.45" ry="5.5" fill="#08082a" opacity="0.83" filter="url(#bl)"/>
<rect x="646.55" y="535.3" width="4.90" height="19.4" rx="2.45" ry="5.5" fill="#08082a" opacity="1.00" filter="url(#bl)"/>
<rect x="665.45" y="535.3" width="4.90" height="19.4" rx="2.45" ry="5.5" fill="#08082a" opacity="1.00" filter="url(#bl)"/>
<rect x="680.75" y="535.3" width="4.90" height="19.4" rx="2.45" ry="5.5" fill="#08082a" opacity="1.00" filter="url(#bl)"/>
<rect x="726.65" y="535.3" width="5.90" height="19.4" rx="2.95" ry="5.5" fill="#08082a" opacity="1.00" filter="url(#bl)"/>
<rect x="737.05" y="535.3" width="3.90" height="19.4" rx="1.95" ry="5.5" fill="#08082a" opacity="0.53" filter="url(#bl)"/>
<rect x="746.45" y="535.3" width="4.90" height="19.4" rx="2.45" ry="5.5" fill="#08082a" opacity="1.00" filter="url(#bl)"/>
<rect x="549.65" y="555.0" width="7.90" height="19.4" rx="3.95" ry="5.5" fill="#08082a" opacity="1.00" filter="url(#bl)"/>
<rect x="646.55" y="555.0" width="4.90" height="19.4" rx="2.45" ry="5.5" fill="#08082a" opacity="1.00" filter="url(#bl)"/>
<rect x="665.45" y="555.0" width="4.90" height="19.4" rx="2.45" ry="5.5" fill="#08082a" opacity="1.00" filter="url(#bl)"/>
<rect x="680.75" y="555.0" width="4.90" height="19.4" rx="2.45" ry="5.5" fill="#08082a" opacity="1.00" filter="url(#bl)"/>
<rect x="727.05" y="555.0" width="5.90" height="19.4" rx="2.95" ry="5.5" fill="#08082a" opacity="1.00" filter="url(#bl)"/>
<rect x="737.05" y="555.0" width="3.90" height="19.4" rx="1.95" ry="5.5" fill="#08082a" opacity="0.53" filter="url(#bl)"/>
<rect x="746.55" y="555.0" width="4.90" height="19.4" rx="2.45" ry="5.5" fill="#08082a" opacity="1.00" filter="url(#bl)"/>
<rect x="550.75" y="574.8" width="7.90" height="19.4" rx="3.95" ry="5.5" fill="#08082a" opacity="1.00" filter="url(#bl)"/>
<rect x="646.15" y="574.8" width="4.90" height="19.4" rx="2.45" ry="5.5" fill="#08082a" opacity="1.00" filter="url(#bl)"/>
<rect x="664.95" y="574.8" width="4.90" height="19.4" rx="2.45" ry="5.5" fill="#08082a" opacity="1.00" filter="url(#bl)"/>
<rect x="679.75" y="574.8" width="5.90" height="19.4" rx="2.95" ry="5.5" fill="#08082a" opacity="1.00" filter="url(#bl)"/>
<rect x="725.65" y="574.8" width="5.90" height="19.4" rx="2.95" ry="5.5" fill="#08082a" opacity="1.00" filter="url(#bl)"/>
<rect x="735.75" y="574.8" width="3.90" height="19.4" rx="1.95" ry="5.5" fill="#08082a" opacity="0.53" filter="url(#bl)"/>
<rect x="746.05" y="574.8" width="4.90" height="19.4" rx="2.45" ry="5.5" fill="#08082a" opacity="1.00" filter="url(#bl)"/>
<rect x="551.65" y="594.6" width="6.90" height="19.4" rx="3.45" ry="5.5" fill="#08082a" opacity="1.00" filter="url(#bl)"/>
<rect x="645.35" y="594.6" width="5.90" height="19.4" rx="2.95" ry="5.5" fill="#08082a" opacity="1.00" filter="url(#bl)"/>
<rect x="664.45" y="594.6" width="5.90" height="19.4" rx="2.95" ry="5.5" fill="#08082a" opacity="1.00" filter="url(#bl)"/>
<rect x="679.95" y="594.6" width="5.90" height="19.4" rx="2.95" ry="5.5" fill="#08082a" opacity="1.00" filter="url(#bl)"/>
<rect x="725.85" y="594.6" width="5.90" height="19.4" rx="2.95" ry="5.5" fill="#08082a" opacity="1.00" filter="url(#bl)"/>
<rect x="745.75" y="594.6" width="4.90" height="19.4" rx="2.45" ry="5.5" fill="#08082a" opacity="1.00" filter="url(#bl)"/>
<rect x="550.35" y="614.3" width="5.90" height="19.4" rx="2.95" ry="5.5" fill="#08082a" opacity="1.00" filter="url(#bl)"/>
<rect x="559.35" y="614.3" width="5.90" height="19.4" rx="2.95" ry="5.5" fill="#08082a" opacity="1.00" filter="url(#bl)"/>
<rect x="657.05" y="614.3" width="5.90" height="19.4" rx="2.95" ry="5.5" fill="#08082a" opacity="1.00" filter="url(#bl)"/>
<rect x="678.85" y="614.3" width="5.90" height="19.4" rx="2.95" ry="5.5" fill="#08082a" opacity="1.00" filter="url(#bl)"/>
<rect x="692.75" y="614.3" width="4.90" height="19.4" rx="2.45" ry="5.5" fill="#08082a" opacity="1.00" filter="url(#bl)"/>
<rect x="705.85" y="614.3" width="4.90" height="19.4" rx="2.45" ry="5.5" fill="#08082a" opacity="0.67" filter="url(#bl)"/>
<rect x="728.15" y="614.3" width="6.90" height="19.4" rx="3.45" ry="5.5" fill="#08082a" opacity="1.00" filter="url(#bl)"/>
<rect x="752.25" y="614.3" width="4.90" height="19.4" rx="2.45" ry="5.5" fill="#08082a" opacity="0.53" filter="url(#bl)"/>
<rect x="558.75" y="634.1" width="6.90" height="19.4" rx="3.45" ry="5.5" fill="#08082a" opacity="1.00" filter="url(#bl)"/>
<rect x="657.55" y="634.1" width="5.90" height="19.4" rx="2.95" ry="5.5" fill="#08082a" opacity="0.83" filter="url(#bl)"/>
<rect x="678.85" y="634.1" width="5.90" height="19.4" rx="2.95" ry="5.5" fill="#08082a" opacity="0.83" filter="url(#bl)"/>
<rect x="692.75" y="634.1" width="4.90" height="19.4" rx="2.45" ry="5.5" fill="#08082a" opacity="0.83" filter="url(#bl)"/>
<rect x="705.85" y="634.1" width="4.90" height="19.4" rx="2.45" ry="5.5" fill="#08082a" opacity="0.53" filter="url(#bl)"/>
<rect x="728.65" y="634.1" width="5.90" height="19.4" rx="2.95" ry="5.5" fill="#08082a" opacity="0.53" filter="url(#bl)"/>
<rect x="752.25" y="634.1" width="4.90" height="19.4" rx="2.45" ry="5.5" fill="#08082a" opacity="0.40" filter="url(#bl)"/>
<rect x="550.85" y="653.8" width="4.90" height="19.4" rx="2.45" ry="5.5" fill="#08082a" opacity="0.75" filter="url(#bl)"/>
<rect x="559.55" y="653.8" width="4.90" height="19.4" rx="2.45" ry="5.5" fill="#08082a" opacity="0.75" filter="url(#bl)"/>
<rect x="658.05" y="653.8" width="4.90" height="19.4" rx="2.45" ry="5.5" fill="#08082a" opacity="0.67" filter="url(#bl)"/>
<rect x="679.35" y="653.8" width="4.90" height="19.4" rx="2.45" ry="5.5" fill="#08082a" opacity="0.67" filter="url(#bl)"/>
<rect x="692.75" y="653.8" width="4.90" height="19.4" rx="2.45" ry="5.5" fill="#08082a" opacity="0.67" filter="url(#bl)"/>
<rect x="706.15" y="653.8" width="3.90" height="19.4" rx="1.95" ry="5.5" fill="#08082a" opacity="0.46" filter="url(#bl)"/>
<rect x="729.15" y="653.8" width="4.90" height="19.4" rx="2.45" ry="5.5" fill="#08082a" opacity="0.60" filter="url(#bl)"/>
<rect x="752.75" y="653.8" width="3.90" height="19.4" rx="1.95" ry="5.5" fill="#08082a" opacity="0.19" filter="url(#bl)"/>
<rect x="550.85" y="673.6" width="4.90" height="19.4" rx="2.45" ry="5.5" fill="#08082a" opacity="0.75" filter="url(#bl)"/>
<rect x="559.55" y="673.6" width="4.90" height="19.4" rx="2.45" ry="5.5" fill="#08082a" opacity="0.75" filter="url(#bl)"/>
<rect x="658.05" y="673.6" width="4.90" height="19.4" rx="2.45" ry="5.5" fill="#08082a" opacity="0.67" filter="url(#bl)"/>
<rect x="679.35" y="673.6" width="4.90" height="19.4" rx="2.45" ry="5.5" fill="#08082a" opacity="0.67" filter="url(#bl)"/>
<rect x="692.75" y="673.6" width="4.90" height="19.4" rx="2.45" ry="5.5" fill="#08082a" opacity="0.67" filter="url(#bl)"/>
<rect x="707.05" y="673.6" width="3.90" height="19.4" rx="1.95" ry="5.5" fill="#08082a" opacity="0.46" filter="url(#bl)"/>
<rect x="728.65" y="673.6" width="5.90" height="19.4" rx="2.95" ry="5.5" fill="#08082a" opacity="0.75" filter="url(#bl)"/>
<rect x="752.75" y="673.6" width="3.90" height="19.4" rx="1.95" ry="5.5" fill="#08082a" opacity="0.34" filter="url(#bl)"/>
<rect x="550.35" y="693.4" width="6.90" height="19.4" rx="3.45" ry="5.5" fill="#08082a" opacity="1.00" filter="url(#bl)"/>
<rect x="559.05" y="693.4" width="6.90" height="19.4" rx="3.45" ry="5.5" fill="#08082a" opacity="1.00" filter="url(#bl)"/>
<rect x="656.65" y="693.4" width="5.90" height="19.4" rx="2.95" ry="5.5" fill="#08082a" opacity="1.00" filter="url(#bl)"/>
<rect x="678.05" y="693.4" width="5.90" height="19.4" rx="2.95" ry="5.5" fill="#08082a" opacity="1.00" filter="url(#bl)"/>
<rect x="692.25" y="693.4" width="5.90" height="19.4" rx="2.95" ry="5.5" fill="#08082a" opacity="1.00" filter="url(#bl)"/>
<rect x="705.25" y="693.4" width="5.90" height="19.4" rx="2.95" ry="5.5" fill="#08082a" opacity="1.00" filter="url(#bl)"/>
<rect x="727.95" y="693.4" width="6.90" height="19.4" rx="3.45" ry="5.5" fill="#08082a" opacity="1.00" filter="url(#bl)"/>
<rect x="752.55" y="693.4" width="4.90" height="19.4" rx="2.45" ry="5.5" fill="#08082a" opacity="1.00" filter="url(#bl)"/>
<rect x="571.55" y="713.1" width="5.90" height="19.4" rx="2.95" ry="5.5" fill="#08082a" opacity="1.00" filter="url(#bl)"/>
<rect x="592.45" y="713.1" width="5.90" height="19.4" rx="2.95" ry="5.5" fill="#08082a" opacity="1.00" filter="url(#bl)"/>
<rect x="635.45" y="713.1" width="5.90" height="19.4" rx="2.95" ry="5.5" fill="#08082a" opacity="1.00" filter="url(#bl)"/>
<rect x="649.75" y="713.1" width="6.90" height="19.4" rx="3.45" ry="5.5" fill="#08082a" opacity="1.00" filter="url(#bl)"/>
<rect x="656.25" y="713.1" width="3.90" height="19.4" rx="1.95" ry="5.5" fill="#08082a" opacity="0.67" filter="url(#bl)"/>
<rect x="678.55" y="713.1" width="5.90" height="19.4" rx="2.95" ry="5.5" fill="#08082a" opacity="1.00" filter="url(#bl)"/>
<rect x="721.05" y="713.1" width="5.90" height="19.4" rx="2.95" ry="5.5" fill="#08082a" opacity="1.00" filter="url(#bl)"/>
<rect x="572.15" y="732.9" width="6.90" height="19.4" rx="3.45" ry="5.5" fill="#08082a" opacity="1.00" filter="url(#bl)"/>
<rect x="599.05" y="732.9" width="5.90" height="19.4" rx="2.95" ry="5.5" fill="#08082a" opacity="1.00" filter="url(#bl)"/>
<rect x="635.05" y="732.9" width="5.90" height="19.4" rx="2.95" ry="5.5" fill="#08082a" opacity="1.00" filter="url(#bl)"/>
<rect x="648.55" y="732.9" width="10.90" height="19.4" rx="5.45" ry="5.5" fill="#08082a" opacity="1.00" filter="url(#bl)"/>
<rect x="690.55" y="732.9" width="5.90" height="19.4" rx="2.95" ry="5.5" fill="#08082a" opacity="1.00" filter="url(#bl)"/>
<rect x="718.55" y="732.9" width="5.90" height="19.4" rx="2.95" ry="5.5" fill="#08082a" opacity="1.00" filter="url(#bl)"/>
<rect x="727.65" y="732.9" width="5.90" height="19.4" rx="2.95" ry="5.5" fill="#08082a" opacity="1.00" filter="url(#bl)"/>
<rect x="571.85" y="752.6" width="5.90" height="19.4" rx="2.95" ry="5.5" fill="#08082a" opacity="1.00" filter="url(#bl)"/>
<rect x="633.95" y="752.6" width="8.90" height="19.4" rx="4.45" ry="5.5" fill="#08082a" opacity="1.00" filter="url(#bl)"/>
<rect x="648.75" y="752.6" width="8.90" height="19.4" rx="4.45" ry="5.5" fill="#08082a" opacity="1.00" filter="url(#bl)"/>
<rect x="682.45" y="752.6" width="5.90" height="19.4" rx="2.95" ry="5.5" fill="#08082a" opacity="1.00" filter="url(#bl)"/>
<rect x="715.75" y="752.6" width="6.90" height="19.4" rx="3.45" ry="5.5" fill="#08082a" opacity="1.00" filter="url(#bl)"/>
<rect x="738.35" y="752.6" width="4.90" height="19.4" rx="2.45" ry="5.5" fill="#08082a" opacity="0.83" filter="url(#bl)"/>
<rect x="746.75" y="752.6" width="4.90" height="19.4" rx="2.45" ry="5.5" fill="#08082a" opacity="0.67" filter="url(#bl)"/>
<g stroke="#4c4cd6" stroke-width="1.35">
<line x1="547.8" y1="278.2" x2="547.8" y2="298.0"/>
<line x1="649.3" y1="278.2" x2="649.3" y2="298.0"/>
<line x1="667.4" y1="278.2" x2="667.4" y2="298.0"/>
<line x1="682.8" y1="278.2" x2="682.8" y2="298.0"/>
<line x1="730.5" y1="278.2" x2="730.5" y2="298.0"/>
<line x1="738.1" y1="278.2" x2="738.1" y2="298.0"/>
<line x1="748.5" y1="278.2" x2="748.5" y2="298.0"/>
<line x1="530.1" y1="298.0" x2="530.1" y2="317.7"/>
<line x1="570.4" y1="298.0" x2="570.4" y2="317.7"/>
<line x1="757.0" y1="298.0" x2="757.0" y2="317.7"/>
<line x1="766.0" y1="298.0" x2="766.0" y2="317.7"/>
<line x1="778.2" y1="298.0" x2="778.2" y2="317.7"/>
<line x1="786.7" y1="298.0" x2="786.7" y2="317.7"/>
<line x1="533.0" y1="317.7" x2="533.0" y2="337.5"/>
<line x1="757.9" y1="317.7" x2="757.9" y2="337.5"/>
<line x1="767.8" y1="317.7" x2="767.8" y2="337.5"/>
<line x1="777.7" y1="317.7" x2="777.7" y2="337.5"/>
<line x1="785.8" y1="317.7" x2="785.8" y2="337.5"/>
<line x1="530.0" y1="337.5" x2="530.0" y2="357.2"/>
<line x1="639.4" y1="337.5" x2="639.4" y2="357.2"/>
<line x1="757.9" y1="337.5" x2="757.9" y2="357.2"/>
<line x1="767.8" y1="337.5" x2="767.8" y2="357.2"/>
<line x1="778.0" y1="337.5" x2="778.0" y2="357.2"/>
<line x1="788.5" y1="337.5" x2="788.5" y2="357.2"/>
<line x1="532.6" y1="357.2" x2="532.6" y2="377.0"/>
<line x1="757.9" y1="357.2" x2="757.9" y2="377.0"/>
<line x1="767.8" y1="357.2" x2="767.8" y2="377.0"/>
<line x1="777.7" y1="357.2" x2="777.7" y2="377.0"/>
<line x1="784.0" y1="357.2" x2="784.0" y2="377.0"/>
<line x1="533.3" y1="377.0" x2="533.3" y2="396.8"/>
<line x1="758.0" y1="377.0" x2="758.0" y2="396.8"/>
<line x1="768.0" y1="377.0" x2="768.0" y2="396.8"/>
<line x1="778.0" y1="377.0" x2="778.0" y2="396.8"/>
<line x1="786.7" y1="377.0" x2="786.7" y2="396.8"/>
<line x1="533.3" y1="396.8" x2="533.3" y2="416.5"/>
<line x1="758.0" y1="396.8" x2="758.0" y2="416.5"/>
<line x1="768.0" y1="396.8" x2="768.0" y2="416.5"/>
<line x1="778.0" y1="396.8" x2="778.0" y2="416.5"/>
<line x1="788.0" y1="396.8" x2="788.0" y2="416.5"/>
<line x1="530.0" y1="416.5" x2="530.0" y2="436.3"/>
<line x1="758.0" y1="416.5" x2="758.0" y2="436.3"/>
<line x1="768.0" y1="416.5" x2="768.0" y2="436.3"/>
<line x1="777.0" y1="416.5" x2="777.0" y2="436.3"/>
<line x1="788.5" y1="416.5" x2="788.5" y2="436.3"/>
<line x1="529.2" y1="436.3" x2="529.2" y2="456.0"/>
<line x1="754.8" y1="436.3" x2="754.8" y2="456.0"/>
<line x1="764.5" y1="436.3" x2="764.5" y2="456.0"/>
<line x1="776.8" y1="436.3" x2="776.8" y2="456.0"/>
<line x1="783.1" y1="436.3" x2="783.1" y2="456.0"/>
<line x1="533.3" y1="456.0" x2="533.3" y2="475.8"/>
<line x1="746.2" y1="456.0" x2="746.2" y2="475.8"/>
<line x1="764.2" y1="456.0" x2="764.2" y2="475.8"/>
<line x1="775.9" y1="456.0" x2="775.9" y2="475.8"/>
<line x1="782.7" y1="456.0" x2="782.7" y2="475.8"/>
<line x1="757.9" y1="475.8" x2="757.9" y2="495.6"/>
<line x1="767.4" y1="475.8" x2="767.4" y2="495.6"/>
<line x1="777.2" y1="475.8" x2="777.2" y2="495.6"/>
<line x1="785.4" y1="475.8" x2="785.4" y2="495.6"/>
<line x1="758.0" y1="495.6" x2="758.0" y2="515.3"/>
<line x1="768.2" y1="495.6" x2="768.2" y2="515.3"/>
<line x1="773.5" y1="495.6" x2="773.5" y2="515.3"/>
<line x1="779.5" y1="495.6" x2="779.5" y2="515.3"/>
<line x1="787.6" y1="495.6" x2="787.6" y2="515.3"/>
<line x1="767.4" y1="515.3" x2="767.4" y2="535.1"/>
<line x1="779.5" y1="515.3" x2="779.5" y2="535.1"/>
<line x1="785.8" y1="515.3" x2="785.8" y2="535.1"/>
<line x1="757.9" y1="535.1" x2="757.9" y2="554.8"/>
<line x1="767.4" y1="535.1" x2="767.4" y2="554.8"/>
<line x1="779.0" y1="535.1" x2="779.0" y2="554.8"/>
<line x1="785.4" y1="535.1" x2="785.4" y2="554.8"/>
<line x1="758.0" y1="554.8" x2="758.0" y2="574.6"/>
<line x1="768.2" y1="554.8" x2="768.2" y2="574.6"/>
<line x1="779.0" y1="554.8" x2="779.0" y2="574.6"/>
<line x1="787.6" y1="554.8" x2="787.6" y2="574.6"/>
<line x1="757.0" y1="574.6" x2="757.0" y2="594.4"/>
<line x1="766.9" y1="574.6" x2="766.9" y2="594.4"/>
<line x1="777.2" y1="574.6" x2="777.2" y2="594.4"/>
<line x1="787.6" y1="574.6" x2="787.6" y2="594.4"/>
<line x1="738.0" y1="594.4" x2="738.0" y2="614.1"/>
<line x1="757.5" y1="594.4" x2="757.5" y2="614.1"/>
<line x1="767.3" y1="594.4" x2="767.3" y2="614.1"/>
<line x1="776.9" y1="594.4" x2="776.9" y2="614.1"/>
<line x1="787.1" y1="594.4" x2="787.1" y2="614.1"/>
<line x1="766.7" y1="614.1" x2="766.7" y2="633.9"/>
<line x1="531.4" y1="633.9" x2="531.4" y2="653.6"/>
<line x1="546.8" y1="633.9" x2="546.8" y2="653.6"/>
<line x1="739.9" y1="633.9" x2="739.9" y2="653.6"/>
<line x1="767.7" y1="633.9" x2="767.7" y2="653.6"/>
<line x1="532.9" y1="653.6" x2="532.9" y2="673.4"/>
<line x1="767.7" y1="653.6" x2="767.7" y2="673.4"/>
<line x1="532.9" y1="673.4" x2="532.9" y2="693.2"/>
<line x1="767.7" y1="673.4" x2="767.7" y2="693.2"/>
<line x1="531.4" y1="693.2" x2="531.4" y2="712.9"/>
<line x1="767.5" y1="693.2" x2="767.5" y2="712.9"/>
<line x1="731.8" y1="712.9" x2="731.8" y2="732.7"/>
<line x1="757.6" y1="712.9" x2="757.6" y2="732.7"/>
<line x1="770.8" y1="712.9" x2="770.8" y2="732.7"/>
<line x1="782.6" y1="712.9" x2="782.6" y2="732.7"/>
<line x1="529.8" y1="732.7" x2="529.8" y2="752.4"/>
<line x1="751.6" y1="732.7" x2="751.6" y2="752.4"/>
<line x1="757.6" y1="732.7" x2="757.6" y2="752.4"/>
<line x1="768.4" y1="732.7" x2="768.4" y2="752.4"/>
<line x1="781.4" y1="732.7" x2="781.4" y2="752.4"/>
<line x1="729.4" y1="752.4" x2="729.4" y2="772.2"/>
<line x1="757.6" y1="752.4" x2="757.6" y2="772.2"/>
<line x1="767.8" y1="752.4" x2="767.8" y2="772.2"/>
<line x1="781.6" y1="752.4" x2="781.6" y2="772.2"/>
</g>
<g stroke="#2424c0" stroke-width="1.6">
<line x1="552.3" y1="298.0" x2="552.3" y2="317.7" opacity="0.60"/>
<line x1="580.5" y1="298.0" x2="580.5" y2="317.7" opacity="0.60"/>
<line x1="647.0" y1="298.0" x2="647.0" y2="317.7" opacity="0.60"/>
<line x1="657.8" y1="298.0" x2="657.8" y2="317.7" opacity="0.60"/>
<line x1="665.9" y1="298.0" x2="665.9" y2="317.7" opacity="0.60"/>
<line x1="681.2" y1="298.0" x2="681.2" y2="317.7" opacity="0.60"/>
<line x1="728.0" y1="298.0" x2="728.0" y2="317.7" opacity="0.60"/>
<line x1="737.4" y1="298.0" x2="737.4" y2="317.7" opacity="0.45"/>
<line x1="746.6" y1="298.0" x2="746.6" y2="317.7" opacity="0.45"/>
<line x1="552.3" y1="317.7" x2="552.3" y2="337.5" opacity="0.60"/>
<line x1="647.7" y1="317.7" x2="647.7" y2="337.5" opacity="0.60"/>
<line x1="666.5" y1="317.7" x2="666.5" y2="337.5" opacity="0.60"/>
<line x1="682.3" y1="317.7" x2="682.3" y2="337.5" opacity="0.60"/>
<line x1="729.1" y1="317.7" x2="729.1" y2="337.5" opacity="0.60"/>
<line x1="738.3" y1="317.7" x2="738.3" y2="337.5" opacity="0.45"/>
<line x1="748.0" y1="317.7" x2="748.0" y2="337.5" opacity="0.60"/>
<line x1="550.4" y1="337.5" x2="550.4" y2="357.2" opacity="0.60"/>
<line x1="647.7" y1="337.5" x2="647.7" y2="357.2" opacity="0.60"/>
<line x1="666.5" y1="337.5" x2="666.5" y2="357.2" opacity="0.60"/>
<line x1="682.3" y1="337.5" x2="682.3" y2="357.2" opacity="0.60"/>
<line x1="729.1" y1="337.5" x2="729.1" y2="357.2" opacity="0.60"/>
<line x1="738.3" y1="337.5" x2="738.3" y2="357.2" opacity="0.45"/>
<line x1="748.0" y1="337.5" x2="748.0" y2="357.2" opacity="0.60"/>
<line x1="550.8" y1="357.2" x2="550.8" y2="377.0" opacity="0.45"/>
<line x1="648.1" y1="357.2" x2="648.1" y2="377.0" opacity="0.45"/>
<line x1="666.5" y1="357.2" x2="666.5" y2="377.0" opacity="0.45"/>
<line x1="682.3" y1="357.2" x2="682.3" y2="377.0" opacity="0.45"/>
<line x1="729.1" y1="357.2" x2="729.1" y2="377.0" opacity="0.45"/>
<line x1="738.3" y1="357.2" x2="738.3" y2="377.0" opacity="0.45"/>
<line x1="748.0" y1="357.2" x2="748.0" y2="377.0" opacity="0.45"/>
<line x1="550.6" y1="377.0" x2="550.6" y2="396.8" opacity="0.60"/>
<line x1="648.1" y1="377.0" x2="648.1" y2="396.8" opacity="0.45"/>
<line x1="666.5" y1="377.0" x2="666.5" y2="396.8" opacity="0.45"/>
<line x1="682.3" y1="377.0" x2="682.3" y2="396.8" opacity="0.45"/>
<line x1="729.1" y1="377.0" x2="729.1" y2="396.8" opacity="0.60"/>
<line x1="738.3" y1="377.0" x2="738.3" y2="396.8" opacity="0.45"/>
<line x1="748.1" y1="377.0" x2="748.1" y2="396.8" opacity="0.60"/>
<line x1="548.5" y1="396.8" x2="548.5" y2="416.5" opacity="0.60"/>
<line x1="648.1" y1="396.8" x2="648.1" y2="416.5" opacity="0.60"/>
<line x1="666.5" y1="396.8" x2="666.5" y2="416.5" opacity="0.60"/>
<line x1="682.3" y1="396.8" x2="682.3" y2="416.5" opacity="0.60"/>
<line x1="729.1" y1="396.8" x2="729.1" y2="416.5" opacity="0.60"/>
<line x1="738.3" y1="396.8" x2="738.3" y2="416.5" opacity="0.45"/>
<line x1="748.1" y1="396.8" x2="748.1" y2="416.5" opacity="0.60"/>
<line x1="551.8" y1="416.5" x2="551.8" y2="436.3" opacity="0.60"/>
<line x1="647.7" y1="416.5" x2="647.7" y2="436.3" opacity="0.60"/>
<line x1="666.3" y1="416.5" x2="666.3" y2="436.3" opacity="0.60"/>
<line x1="681.0" y1="416.5" x2="681.0" y2="436.3" opacity="0.60"/>
<line x1="727.9" y1="416.5" x2="727.9" y2="436.3" opacity="0.60"/>
<line x1="738.3" y1="416.5" x2="738.3" y2="436.3" opacity="0.45"/>
<line x1="747.9" y1="416.5" x2="747.9" y2="436.3" opacity="0.60"/>
<line x1="550.1" y1="436.3" x2="550.1" y2="456.0" opacity="0.60"/>
<line x1="646.8" y1="436.3" x2="646.8" y2="456.0" opacity="0.60"/>
<line x1="665.9" y1="436.3" x2="665.9" y2="456.0" opacity="0.60"/>
<line x1="681.6" y1="436.3" x2="681.6" y2="456.0" opacity="0.60"/>
<line x1="727.5" y1="436.3" x2="727.5" y2="456.0" opacity="0.60"/>
<line x1="737.4" y1="436.3" x2="737.4" y2="456.0" opacity="0.45"/>
<line x1="746.7" y1="436.3" x2="746.7" y2="456.0" opacity="0.60"/>
<line x1="551.0" y1="456.0" x2="551.0" y2="475.8" opacity="0.60"/>
<line x1="647.0" y1="456.0" x2="647.0" y2="475.8" opacity="0.60"/>
<line x1="665.9" y1="456.0" x2="665.9" y2="475.8" opacity="0.60"/>
<line x1="681.6" y1="456.0" x2="681.6" y2="475.8" opacity="0.60"/>
<line x1="726.6" y1="456.0" x2="726.6" y2="475.8" opacity="0.60"/>
<line x1="736.5" y1="456.0" x2="736.5" y2="475.8" opacity="0.45"/>
<line x1="753.9" y1="456.0" x2="753.9" y2="475.8" opacity="0.60"/>
<line x1="547.5" y1="475.8" x2="547.5" y2="495.6" opacity="0.60"/>
<line x1="559.4" y1="475.8" x2="559.4" y2="495.6" opacity="0.60"/>
<line x1="648.1" y1="475.8" x2="648.1" y2="495.6" opacity="0.60"/>
<line x1="667.0" y1="475.8" x2="667.0" y2="495.6" opacity="0.60"/>
<line x1="682.3" y1="475.8" x2="682.3" y2="495.6" opacity="0.60"/>
<line x1="730.0" y1="475.8" x2="730.0" y2="495.6" opacity="0.60"/>
<line x1="738.3" y1="475.8" x2="738.3" y2="495.6" opacity="0.45"/>
<line x1="748.5" y1="475.8" x2="748.5" y2="495.6" opacity="0.60"/>
<line x1="549.8" y1="495.6" x2="549.8" y2="515.3" opacity="0.60"/>
<line x1="648.1" y1="495.6" x2="648.1" y2="515.3" opacity="0.45"/>
<line x1="667.0" y1="495.6" x2="667.0" y2="515.3" opacity="0.45"/>
<line x1="682.3" y1="495.6" x2="682.3" y2="515.3" opacity="0.45"/>
<line x1="730.0" y1="495.6" x2="730.0" y2="515.3" opacity="0.45"/>
<line x1="738.3" y1="495.6" x2="738.3" y2="515.3" opacity="0.45"/>
<line x1="748.5" y1="495.6" x2="748.5" y2="515.3" opacity="0.45"/>
<line x1="550.9" y1="515.3" x2="550.9" y2="535.1" opacity="0.60"/>
<line x1="648.1" y1="515.3" x2="648.1" y2="535.1" opacity="0.60"/>
<line x1="667.0" y1="515.3" x2="667.0" y2="535.1" opacity="0.60"/>
<line x1="682.3" y1="515.3" x2="682.3" y2="535.1" opacity="0.60"/>
<line x1="728.0" y1="515.3" x2="728.0" y2="535.1" opacity="0.60"/>
<line x1="737.9" y1="515.3" x2="737.9" y2="535.1" opacity="0.45"/>
<line x1="748.0" y1="515.3" x2="748.0" y2="535.1" opacity="0.45"/>
<line x1="757.0" y1="515.3" x2="757.0" y2="535.1" opacity="0.60"/>
<line x1="548.2" y1="535.1" x2="548.2" y2="554.8" opacity="0.60"/>
<line x1="648.1" y1="535.1" x2="648.1" y2="554.8" opacity="0.60"/>
<line x1="667.0" y1="535.1" x2="667.0" y2="554.8" opacity="0.60"/>
<line x1="682.3" y1="535.1" x2="682.3" y2="554.8" opacity="0.60"/>
<line x1="728.5" y1="535.1" x2="728.5" y2="554.8" opacity="0.60"/>
<line x1="738.3" y1="535.1" x2="738.3" y2="554.8" opacity="0.45"/>
<line x1="748.0" y1="535.1" x2="748.0" y2="554.8" opacity="0.60"/>
<line x1="552.1" y1="554.8" x2="552.1" y2="574.6" opacity="0.60"/>
<line x1="648.1" y1="554.8" x2="648.1" y2="574.6" opacity="0.60"/>
<line x1="667.0" y1="554.8" x2="667.0" y2="574.6" opacity="0.60"/>
<line x1="682.3" y1="554.8" x2="682.3" y2="574.6" opacity="0.60"/>
<line x1="728.9" y1="554.8" x2="728.9" y2="574.6" opacity="0.60"/>
<line x1="738.3" y1="554.8" x2="738.3" y2="574.6" opacity="0.45"/>
<line x1="748.1" y1="554.8" x2="748.1" y2="574.6" opacity="0.60"/>
<line x1="553.2" y1="574.6" x2="553.2" y2="594.4" opacity="0.60"/>
<line x1="647.7" y1="574.6" x2="647.7" y2="594.4" opacity="0.60"/>
<line x1="666.5" y1="574.6" x2="666.5" y2="594.4" opacity="0.60"/>
<line x1="681.6" y1="574.6" x2="681.6" y2="594.4" opacity="0.60"/>
<line x1="727.5" y1="574.6" x2="727.5" y2="594.4" opacity="0.60"/>
<line x1="737.0" y1="574.6" x2="737.0" y2="594.4" opacity="0.45"/>
<line x1="747.6" y1="574.6" x2="747.6" y2="594.4" opacity="0.60"/>
<line x1="553.8" y1="594.4" x2="553.8" y2="614.1" opacity="0.60"/>
<line x1="647.2" y1="594.4" x2="647.2" y2="614.1" opacity="0.60"/>
<line x1="666.3" y1="594.4" x2="666.3" y2="614.1" opacity="0.60"/>
<line x1="681.8" y1="594.4" x2="681.8" y2="614.1" opacity="0.60"/>
<line x1="727.7" y1="594.4" x2="727.7" y2="614.1" opacity="0.60"/>
<line x1="747.3" y1="594.4" x2="747.3" y2="614.1" opacity="0.60"/>
<line x1="552.2" y1="614.1" x2="552.2" y2="633.9" opacity="0.60"/>
<line x1="561.2" y1="614.1" x2="561.2" y2="633.9" opacity="0.60"/>
<line x1="658.9" y1="614.1" x2="658.9" y2="633.9" opacity="0.60"/>
<line x1="680.7" y1="614.1" x2="680.7" y2="633.9" opacity="0.60"/>
<line x1="694.3" y1="614.1" x2="694.3" y2="633.9" opacity="0.60"/>
<line x1="707.4" y1="614.1" x2="707.4" y2="633.9" opacity="0.45"/>
<line x1="730.3" y1="614.1" x2="730.3" y2="633.9" opacity="0.60"/>
<line x1="753.8" y1="614.1" x2="753.8" y2="633.9" opacity="0.45"/>
<line x1="560.9" y1="633.9" x2="560.9" y2="653.6" opacity="0.60"/>
<line x1="659.4" y1="633.9" x2="659.4" y2="653.6" opacity="0.60"/>
<line x1="680.7" y1="633.9" x2="680.7" y2="653.6" opacity="0.60"/>
<line x1="694.3" y1="633.9" x2="694.3" y2="653.6" opacity="0.60"/>
<line x1="707.4" y1="633.9" x2="707.4" y2="653.6" opacity="0.45"/>
<line x1="730.5" y1="633.9" x2="730.5" y2="653.6" opacity="0.45"/>
<line x1="753.8" y1="633.9" x2="753.8" y2="653.6" opacity="0.45"/>
<line x1="552.4" y1="653.6" x2="552.4" y2="673.4" opacity="0.45"/>
<line x1="561.1" y1="653.6" x2="561.1" y2="673.4" opacity="0.45"/>
<line x1="659.6" y1="653.6" x2="659.6" y2="673.4" opacity="0.45"/>
<line x1="680.9" y1="653.6" x2="680.9" y2="673.4" opacity="0.45"/>
<line x1="694.3" y1="653.6" x2="694.3" y2="673.4" opacity="0.45"/>
<line x1="707.4" y1="653.6" x2="707.4" y2="673.4" opacity="0.45"/>
<line x1="730.7" y1="653.6" x2="730.7" y2="673.4" opacity="0.45"/>
<line x1="754.0" y1="653.6" x2="754.0" y2="673.4" opacity="0.45"/>
<line x1="552.4" y1="673.4" x2="552.4" y2="693.2" opacity="0.45"/>
<line x1="561.1" y1="673.4" x2="561.1" y2="693.2" opacity="0.45"/>
<line x1="659.6" y1="673.4" x2="659.6" y2="693.2" opacity="0.45"/>
<line x1="680.9" y1="673.4" x2="680.9" y2="693.2" opacity="0.45"/>
<line x1="694.3" y1="673.4" x2="694.3" y2="693.2" opacity="0.45"/>
<line x1="708.3" y1="673.4" x2="708.3" y2="693.2" opacity="0.45"/>
<line x1="730.5" y1="673.4" x2="730.5" y2="693.2" opacity="0.45"/>
<line x1="754.0" y1="673.4" x2="754.0" y2="693.2" opacity="0.45"/>
<line x1="552.5" y1="693.2" x2="552.5" y2="712.9" opacity="0.60"/>
<line x1="561.2" y1="693.2" x2="561.2" y2="712.9" opacity="0.60"/>
<line x1="658.5" y1="693.2" x2="658.5" y2="712.9" opacity="0.60"/>
<line x1="679.9" y1="693.2" x2="679.9" y2="712.9" opacity="0.60"/>
<line x1="694.1" y1="693.2" x2="694.1" y2="712.9" opacity="0.60"/>
<line x1="707.1" y1="693.2" x2="707.1" y2="712.9" opacity="0.60"/>
<line x1="730.1" y1="693.2" x2="730.1" y2="712.9" opacity="0.60"/>
<line x1="754.1" y1="693.2" x2="754.1" y2="712.9" opacity="0.60"/>
<line x1="573.4" y1="712.9" x2="573.4" y2="732.7" opacity="0.60"/>
<line x1="594.3" y1="712.9" x2="594.3" y2="732.7" opacity="0.60"/>
<line x1="637.3" y1="712.9" x2="637.3" y2="732.7" opacity="0.60"/>
<line x1="651.9" y1="712.9" x2="651.9" y2="732.7" opacity="0.60"/>
<line x1="657.5" y1="712.9" x2="657.5" y2="732.7" opacity="0.45"/>
<line x1="680.4" y1="712.9" x2="680.4" y2="732.7" opacity="0.60"/>
<line x1="722.9" y1="712.9" x2="722.9" y2="732.7" opacity="0.60"/>
<line x1="574.3" y1="732.7" x2="574.3" y2="752.4" opacity="0.60"/>
<line x1="600.9" y1="732.7" x2="600.9" y2="752.4" opacity="0.60"/>
<line x1="636.9" y1="732.7" x2="636.9" y2="752.4" opacity="0.60"/>
<line x1="651.8" y1="732.7" x2="651.8" y2="752.4" opacity="0.60"/>
<line x1="692.4" y1="732.7" x2="692.4" y2="752.4" opacity="0.60"/>
<line x1="720.4" y1="732.7" x2="720.4" y2="752.4" opacity="0.60"/>
<line x1="729.5" y1="732.7" x2="729.5" y2="752.4" opacity="0.60"/>
<line x1="573.7" y1="752.4" x2="573.7" y2="772.2" opacity="0.60"/>
<line x1="636.6" y1="752.4" x2="636.6" y2="772.2" opacity="0.60"/>
<line x1="651.4" y1="752.4" x2="651.4" y2="772.2" opacity="0.60"/>
<line x1="684.3" y1="752.4" x2="684.3" y2="772.2" opacity="0.60"/>
<line x1="717.9" y1="752.4" x2="717.9" y2="772.2" opacity="0.60"/>
<line x1="739.9" y1="752.4" x2="739.9" y2="772.2" opacity="0.60"/>
<line x1="748.3" y1="752.4" x2="748.3" y2="772.2" opacity="0.45"/>
</g>
<g fill="#7a7ae8">
<rect x="500.3" y="296.66" width="314.5" height="2.6"/>
<rect x="500.3" y="316.42" width="314.5" height="2.6"/>
<rect x="500.3" y="336.18" width="314.5" height="2.6"/>
<rect x="500.3" y="355.94" width="314.5" height="2.6"/>
<rect x="500.3" y="375.70" width="314.5" height="2.6"/>
<rect x="500.3" y="395.46" width="314.5" height="2.6"/>
<rect x="500.3" y="415.22" width="314.5" height="2.6"/>
<rect x="500.3" y="434.98" width="314.5" height="2.6"/>
<rect x="500.3" y="454.74" width="314.5" height="2.6"/>
<rect x="500.3" y="474.50" width="314.5" height="2.6"/>
<rect x="500.3" y="494.26" width="314.5" height="2.6"/>
<rect x="500.3" y="514.02" width="314.5" height="2.6"/>
<rect x="500.3" y="533.78" width="314.5" height="2.6"/>
<rect x="500.3" y="553.54" width="314.5" height="2.6"/>
<rect x="500.3" y="573.30" width="314.5" height="2.6"/>
<rect x="500.3" y="593.06" width="314.5" height="2.6"/>
<rect x="500.3" y="612.82" width="314.5" height="2.6"/>
<rect x="500.3" y="632.58" width="314.5" height="2.6"/>
<rect x="500.3" y="652.34" width="314.5" height="2.6"/>
<rect x="500.3" y="672.10" width="314.5" height="2.6"/>
<rect x="500.3" y="691.86" width="314.5" height="2.6"/>
<rect x="500.3" y="711.62" width="314.5" height="2.6"/>
<rect x="500.3" y="731.38" width="314.5" height="2.6"/>
<rect x="500.3" y="751.14" width="314.5" height="2.6"/>
</g>
<rect x="812.8" y="320.0" width="2.4" height="3.4" rx="1" fill="#20207a"/>
<rect x="500.3" y="279.3" width="314.5" height="492.1" fill="none" stroke="#8a8ad8" stroke-width="1.3"/>
<text class="t" x="835.2" y="294.5" font-size="16.4" fill="#262626" textLength="131.8" lengthAdjust="spacingAndGlyphs">image2:Lane 16</text>
<text class="t" x="835.2" y="314.3" font-size="16.4" fill="#262626" textLength="131.8" lengthAdjust="spacingAndGlyphs">image1:Lane 09</text>
<text class="t" x="835.2" y="334.0" font-size="16.4" fill="#262626" textLength="131.8" lengthAdjust="spacingAndGlyphs">image2:Lane 06</text>
<text class="t" x="835.2" y="353.8" font-size="16.4" fill="#262626" textLength="131.8" lengthAdjust="spacingAndGlyphs">image1:Lane 08</text>
<text class="t" x="835.2" y="373.6" font-size="16.4" fill="#262626" textLength="131.8" lengthAdjust="spacingAndGlyphs">image2:Lane 14</text>
<text class="t" x="835.2" y="393.3" font-size="16.4" fill="#262626" textLength="131.8" lengthAdjust="spacingAndGlyphs">image2:Lane 13</text>
<text class="t" x="835.2" y="413.1" font-size="16.4" fill="#262626" textLength="131.8" lengthAdjust="spacingAndGlyphs">image2:Lane 09</text>
<text class="t" x="835.2" y="432.9" font-size="16.4" fill="#262626" textLength="131.8" lengthAdjust="spacingAndGlyphs">image1:Lane 12</text>
<text class="t" x="835.2" y="452.7" font-size="16.4" fill="#262626" textLength="131.8" lengthAdjust="spacingAndGlyphs">image1:Lane 03</text>
<text class="t" x="835.2" y="472.4" font-size="16.4" fill="#262626" textLength="131.8" lengthAdjust="spacingAndGlyphs">image1:Lane 01</text>
<text class="t" x="835.2" y="492.2" font-size="16.4" fill="#262626" textLength="131.8" lengthAdjust="spacingAndGlyphs">image2:Lane 10</text>
<text class="t" x="835.2" y="512.0" font-size="16.4" fill="#262626" textLength="131.8" lengthAdjust="spacingAndGlyphs">image2:Lane 07</text>
<text class="t" x="835.2" y="531.7" font-size="16.4" fill="#262626" textLength="131.8" lengthAdjust="spacingAndGlyphs">image2:Lane 12</text>
<text class="t" x="835.2" y="551.5" font-size="16.4" fill="#262626" textLength="131.8" lengthAdjust="spacingAndGlyphs">image2:Lane 11</text>
<text class="t" x="835.2" y="571.3" font-size="16.4" fill="#262626" textLength="131.8" lengthAdjust="spacingAndGlyphs">image2:Lane 03</text>
<text class="t" x="835.2" y="591.0" font-size="16.4" fill="#262626" textLength="131.8" lengthAdjust="spacingAndGlyphs">image1:Lane 06</text>
<text class="t" x="835.2" y="610.8" font-size="16.4" fill="#262626" textLength="131.8" lengthAdjust="spacingAndGlyphs">image1:Lane 05</text>
<text class="t" x="835.2" y="630.6" font-size="16.4" fill="#262626" textLength="131.8" lengthAdjust="spacingAndGlyphs">image1:Lane 13</text>
<text class="t" x="835.2" y="650.4" font-size="16.4" fill="#262626" textLength="131.8" lengthAdjust="spacingAndGlyphs">image2:Lane 02</text>
<text class="t" x="835.2" y="670.1" font-size="16.4" fill="#262626" textLength="131.8" lengthAdjust="spacingAndGlyphs">image2:Lane 05</text>
<text class="t" x="835.2" y="689.9" font-size="16.4" fill="#262626" textLength="131.8" lengthAdjust="spacingAndGlyphs">image2:Lane 04</text>
<text class="t" x="835.2" y="709.7" font-size="16.4" fill="#262626" textLength="131.8" lengthAdjust="spacingAndGlyphs">image1:Lane 11</text>
<text class="t" x="835.2" y="729.4" font-size="16.4" fill="#262626" textLength="131.8" lengthAdjust="spacingAndGlyphs">image1:Lane 14</text>
<text class="t" x="835.2" y="749.2" font-size="16.4" fill="#262626" textLength="131.8" lengthAdjust="spacingAndGlyphs">image1:Lane 10</text>
<text class="t" x="835.2" y="769.0" font-size="16.4" fill="#262626" textLength="131.8" lengthAdjust="spacingAndGlyphs">image1:Lane 04</text>
</svg></body></html>
